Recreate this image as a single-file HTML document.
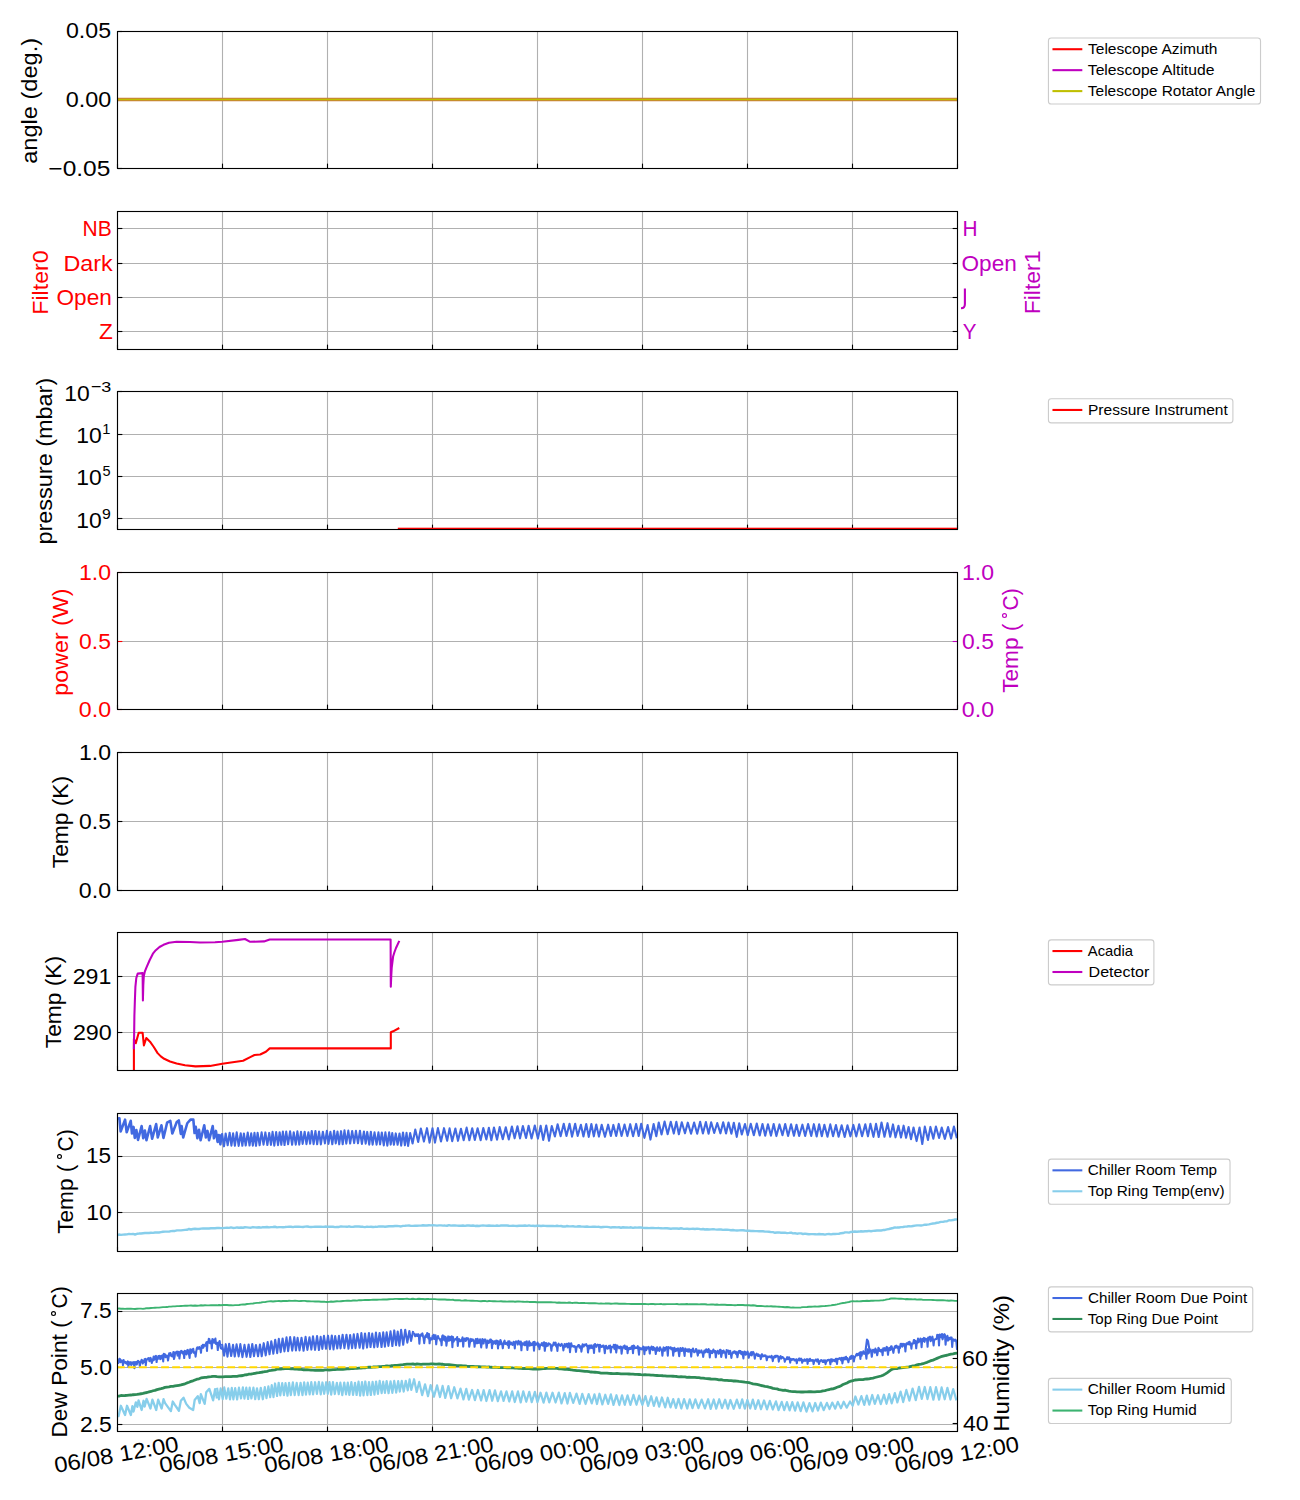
<!DOCTYPE html>
<html><head><meta charset="utf-8"><title>Telemetry plots</title>
<style>html,body{margin:0;padding:0;background:#fff;width:1300px;height:1500px;overflow:hidden}svg{display:block;font-family:"Liberation Sans",sans-serif}</style>
</head><body>
<svg width="1300" height="1500" viewBox="0 0 1300 1500">
<line x1="117.5" y1="31.5" x2="117.5" y2="168.5" stroke="#b0b0b0" stroke-width="1.11"/>
<line x1="222.5" y1="31.5" x2="222.5" y2="168.5" stroke="#b0b0b0" stroke-width="1.11"/>
<line x1="327.5" y1="31.5" x2="327.5" y2="168.5" stroke="#b0b0b0" stroke-width="1.11"/>
<line x1="432.5" y1="31.5" x2="432.5" y2="168.5" stroke="#b0b0b0" stroke-width="1.11"/>
<line x1="537.5" y1="31.5" x2="537.5" y2="168.5" stroke="#b0b0b0" stroke-width="1.11"/>
<line x1="642.5" y1="31.5" x2="642.5" y2="168.5" stroke="#b0b0b0" stroke-width="1.11"/>
<line x1="747.5" y1="31.5" x2="747.5" y2="168.5" stroke="#b0b0b0" stroke-width="1.11"/>
<line x1="852.5" y1="31.5" x2="852.5" y2="168.5" stroke="#b0b0b0" stroke-width="1.11"/>
<line x1="957.5" y1="31.5" x2="957.5" y2="168.5" stroke="#b0b0b0" stroke-width="1.11"/>
<line x1="117.5" y1="168.5" x2="957.5" y2="168.5" stroke="#b0b0b0" stroke-width="1.11"/>
<line x1="117.5" y1="99.5" x2="957.5" y2="99.5" stroke="#b0b0b0" stroke-width="1.11"/>
<line x1="117.5" y1="31.5" x2="957.5" y2="31.5" stroke="#b0b0b0" stroke-width="1.11"/>
<line x1="117.5" y1="211.5" x2="117.5" y2="349.5" stroke="#b0b0b0" stroke-width="1.11"/>
<line x1="222.5" y1="211.5" x2="222.5" y2="349.5" stroke="#b0b0b0" stroke-width="1.11"/>
<line x1="327.5" y1="211.5" x2="327.5" y2="349.5" stroke="#b0b0b0" stroke-width="1.11"/>
<line x1="432.5" y1="211.5" x2="432.5" y2="349.5" stroke="#b0b0b0" stroke-width="1.11"/>
<line x1="537.5" y1="211.5" x2="537.5" y2="349.5" stroke="#b0b0b0" stroke-width="1.11"/>
<line x1="642.5" y1="211.5" x2="642.5" y2="349.5" stroke="#b0b0b0" stroke-width="1.11"/>
<line x1="747.5" y1="211.5" x2="747.5" y2="349.5" stroke="#b0b0b0" stroke-width="1.11"/>
<line x1="852.5" y1="211.5" x2="852.5" y2="349.5" stroke="#b0b0b0" stroke-width="1.11"/>
<line x1="957.5" y1="211.5" x2="957.5" y2="349.5" stroke="#b0b0b0" stroke-width="1.11"/>
<line x1="117.5" y1="331.5" x2="957.5" y2="331.5" stroke="#b0b0b0" stroke-width="1.11"/>
<line x1="117.5" y1="297.5" x2="957.5" y2="297.5" stroke="#b0b0b0" stroke-width="1.11"/>
<line x1="117.5" y1="263.5" x2="957.5" y2="263.5" stroke="#b0b0b0" stroke-width="1.11"/>
<line x1="117.5" y1="228.5" x2="957.5" y2="228.5" stroke="#b0b0b0" stroke-width="1.11"/>
<line x1="117.5" y1="391.5" x2="117.5" y2="529.5" stroke="#b0b0b0" stroke-width="1.11"/>
<line x1="222.5" y1="391.5" x2="222.5" y2="529.5" stroke="#b0b0b0" stroke-width="1.11"/>
<line x1="327.5" y1="391.5" x2="327.5" y2="529.5" stroke="#b0b0b0" stroke-width="1.11"/>
<line x1="432.5" y1="391.5" x2="432.5" y2="529.5" stroke="#b0b0b0" stroke-width="1.11"/>
<line x1="537.5" y1="391.5" x2="537.5" y2="529.5" stroke="#b0b0b0" stroke-width="1.11"/>
<line x1="642.5" y1="391.5" x2="642.5" y2="529.5" stroke="#b0b0b0" stroke-width="1.11"/>
<line x1="747.5" y1="391.5" x2="747.5" y2="529.5" stroke="#b0b0b0" stroke-width="1.11"/>
<line x1="852.5" y1="391.5" x2="852.5" y2="529.5" stroke="#b0b0b0" stroke-width="1.11"/>
<line x1="957.5" y1="391.5" x2="957.5" y2="529.5" stroke="#b0b0b0" stroke-width="1.11"/>
<line x1="117.5" y1="391.5" x2="957.5" y2="391.5" stroke="#b0b0b0" stroke-width="1.11"/>
<line x1="117.5" y1="434.5" x2="957.5" y2="434.5" stroke="#b0b0b0" stroke-width="1.11"/>
<line x1="117.5" y1="476.5" x2="957.5" y2="476.5" stroke="#b0b0b0" stroke-width="1.11"/>
<line x1="117.5" y1="518.5" x2="957.5" y2="518.5" stroke="#b0b0b0" stroke-width="1.11"/>
<line x1="117.5" y1="572.5" x2="117.5" y2="709.5" stroke="#b0b0b0" stroke-width="1.11"/>
<line x1="222.5" y1="572.5" x2="222.5" y2="709.5" stroke="#b0b0b0" stroke-width="1.11"/>
<line x1="327.5" y1="572.5" x2="327.5" y2="709.5" stroke="#b0b0b0" stroke-width="1.11"/>
<line x1="432.5" y1="572.5" x2="432.5" y2="709.5" stroke="#b0b0b0" stroke-width="1.11"/>
<line x1="537.5" y1="572.5" x2="537.5" y2="709.5" stroke="#b0b0b0" stroke-width="1.11"/>
<line x1="642.5" y1="572.5" x2="642.5" y2="709.5" stroke="#b0b0b0" stroke-width="1.11"/>
<line x1="747.5" y1="572.5" x2="747.5" y2="709.5" stroke="#b0b0b0" stroke-width="1.11"/>
<line x1="852.5" y1="572.5" x2="852.5" y2="709.5" stroke="#b0b0b0" stroke-width="1.11"/>
<line x1="957.5" y1="572.5" x2="957.5" y2="709.5" stroke="#b0b0b0" stroke-width="1.11"/>
<line x1="117.5" y1="709.5" x2="957.5" y2="709.5" stroke="#b0b0b0" stroke-width="1.11"/>
<line x1="117.5" y1="641.5" x2="957.5" y2="641.5" stroke="#b0b0b0" stroke-width="1.11"/>
<line x1="117.5" y1="572.5" x2="957.5" y2="572.5" stroke="#b0b0b0" stroke-width="1.11"/>
<line x1="117.5" y1="752.5" x2="117.5" y2="890.5" stroke="#b0b0b0" stroke-width="1.11"/>
<line x1="222.5" y1="752.5" x2="222.5" y2="890.5" stroke="#b0b0b0" stroke-width="1.11"/>
<line x1="327.5" y1="752.5" x2="327.5" y2="890.5" stroke="#b0b0b0" stroke-width="1.11"/>
<line x1="432.5" y1="752.5" x2="432.5" y2="890.5" stroke="#b0b0b0" stroke-width="1.11"/>
<line x1="537.5" y1="752.5" x2="537.5" y2="890.5" stroke="#b0b0b0" stroke-width="1.11"/>
<line x1="642.5" y1="752.5" x2="642.5" y2="890.5" stroke="#b0b0b0" stroke-width="1.11"/>
<line x1="747.5" y1="752.5" x2="747.5" y2="890.5" stroke="#b0b0b0" stroke-width="1.11"/>
<line x1="852.5" y1="752.5" x2="852.5" y2="890.5" stroke="#b0b0b0" stroke-width="1.11"/>
<line x1="957.5" y1="752.5" x2="957.5" y2="890.5" stroke="#b0b0b0" stroke-width="1.11"/>
<line x1="117.5" y1="890.5" x2="957.5" y2="890.5" stroke="#b0b0b0" stroke-width="1.11"/>
<line x1="117.5" y1="821.5" x2="957.5" y2="821.5" stroke="#b0b0b0" stroke-width="1.11"/>
<line x1="117.5" y1="752.5" x2="957.5" y2="752.5" stroke="#b0b0b0" stroke-width="1.11"/>
<line x1="117.5" y1="932.5" x2="117.5" y2="1070.5" stroke="#b0b0b0" stroke-width="1.11"/>
<line x1="222.5" y1="932.5" x2="222.5" y2="1070.5" stroke="#b0b0b0" stroke-width="1.11"/>
<line x1="327.5" y1="932.5" x2="327.5" y2="1070.5" stroke="#b0b0b0" stroke-width="1.11"/>
<line x1="432.5" y1="932.5" x2="432.5" y2="1070.5" stroke="#b0b0b0" stroke-width="1.11"/>
<line x1="537.5" y1="932.5" x2="537.5" y2="1070.5" stroke="#b0b0b0" stroke-width="1.11"/>
<line x1="642.5" y1="932.5" x2="642.5" y2="1070.5" stroke="#b0b0b0" stroke-width="1.11"/>
<line x1="747.5" y1="932.5" x2="747.5" y2="1070.5" stroke="#b0b0b0" stroke-width="1.11"/>
<line x1="852.5" y1="932.5" x2="852.5" y2="1070.5" stroke="#b0b0b0" stroke-width="1.11"/>
<line x1="957.5" y1="932.5" x2="957.5" y2="1070.5" stroke="#b0b0b0" stroke-width="1.11"/>
<line x1="117.5" y1="1032.5" x2="957.5" y2="1032.5" stroke="#b0b0b0" stroke-width="1.11"/>
<line x1="117.5" y1="976.5" x2="957.5" y2="976.5" stroke="#b0b0b0" stroke-width="1.11"/>
<line x1="117.5" y1="1113.5" x2="117.5" y2="1251.5" stroke="#b0b0b0" stroke-width="1.11"/>
<line x1="222.5" y1="1113.5" x2="222.5" y2="1251.5" stroke="#b0b0b0" stroke-width="1.11"/>
<line x1="327.5" y1="1113.5" x2="327.5" y2="1251.5" stroke="#b0b0b0" stroke-width="1.11"/>
<line x1="432.5" y1="1113.5" x2="432.5" y2="1251.5" stroke="#b0b0b0" stroke-width="1.11"/>
<line x1="537.5" y1="1113.5" x2="537.5" y2="1251.5" stroke="#b0b0b0" stroke-width="1.11"/>
<line x1="642.5" y1="1113.5" x2="642.5" y2="1251.5" stroke="#b0b0b0" stroke-width="1.11"/>
<line x1="747.5" y1="1113.5" x2="747.5" y2="1251.5" stroke="#b0b0b0" stroke-width="1.11"/>
<line x1="852.5" y1="1113.5" x2="852.5" y2="1251.5" stroke="#b0b0b0" stroke-width="1.11"/>
<line x1="957.5" y1="1113.5" x2="957.5" y2="1251.5" stroke="#b0b0b0" stroke-width="1.11"/>
<line x1="117.5" y1="1212.5" x2="957.5" y2="1212.5" stroke="#b0b0b0" stroke-width="1.11"/>
<line x1="117.5" y1="1156.5" x2="957.5" y2="1156.5" stroke="#b0b0b0" stroke-width="1.11"/>
<line x1="117.5" y1="1293.5" x2="117.5" y2="1431.5" stroke="#b0b0b0" stroke-width="1.11"/>
<line x1="222.5" y1="1293.5" x2="222.5" y2="1431.5" stroke="#b0b0b0" stroke-width="1.11"/>
<line x1="327.5" y1="1293.5" x2="327.5" y2="1431.5" stroke="#b0b0b0" stroke-width="1.11"/>
<line x1="432.5" y1="1293.5" x2="432.5" y2="1431.5" stroke="#b0b0b0" stroke-width="1.11"/>
<line x1="537.5" y1="1293.5" x2="537.5" y2="1431.5" stroke="#b0b0b0" stroke-width="1.11"/>
<line x1="642.5" y1="1293.5" x2="642.5" y2="1431.5" stroke="#b0b0b0" stroke-width="1.11"/>
<line x1="747.5" y1="1293.5" x2="747.5" y2="1431.5" stroke="#b0b0b0" stroke-width="1.11"/>
<line x1="852.5" y1="1293.5" x2="852.5" y2="1431.5" stroke="#b0b0b0" stroke-width="1.11"/>
<line x1="957.5" y1="1293.5" x2="957.5" y2="1431.5" stroke="#b0b0b0" stroke-width="1.11"/>
<line x1="117.5" y1="1424.5" x2="957.5" y2="1424.5" stroke="#b0b0b0" stroke-width="1.11"/>
<line x1="117.5" y1="1367.5" x2="957.5" y2="1367.5" stroke="#b0b0b0" stroke-width="1.11"/>
<line x1="117.5" y1="1311.5" x2="957.5" y2="1311.5" stroke="#b0b0b0" stroke-width="1.11"/>
<line x1="117.5" y1="168.5" x2="117.5" y2="163.64" stroke="#000" stroke-width="1.11"/>
<line x1="222.5" y1="168.5" x2="222.5" y2="163.64" stroke="#000" stroke-width="1.11"/>
<line x1="327.5" y1="168.5" x2="327.5" y2="163.64" stroke="#000" stroke-width="1.11"/>
<line x1="432.5" y1="168.5" x2="432.5" y2="163.64" stroke="#000" stroke-width="1.11"/>
<line x1="537.5" y1="168.5" x2="537.5" y2="163.64" stroke="#000" stroke-width="1.11"/>
<line x1="642.5" y1="168.5" x2="642.5" y2="163.64" stroke="#000" stroke-width="1.11"/>
<line x1="747.5" y1="168.5" x2="747.5" y2="163.64" stroke="#000" stroke-width="1.11"/>
<line x1="852.5" y1="168.5" x2="852.5" y2="163.64" stroke="#000" stroke-width="1.11"/>
<line x1="957.5" y1="168.5" x2="957.5" y2="163.64" stroke="#000" stroke-width="1.11"/>
<line x1="117.5" y1="168.5" x2="122.36" y2="168.5" stroke="#000000" stroke-width="1.11"/>
<line x1="117.5" y1="99.5" x2="122.36" y2="99.5" stroke="#000000" stroke-width="1.11"/>
<line x1="117.5" y1="31.5" x2="122.36" y2="31.5" stroke="#000000" stroke-width="1.11"/>
<line x1="117.5" y1="349.5" x2="117.5" y2="344.64" stroke="#000" stroke-width="1.11"/>
<line x1="222.5" y1="349.5" x2="222.5" y2="344.64" stroke="#000" stroke-width="1.11"/>
<line x1="327.5" y1="349.5" x2="327.5" y2="344.64" stroke="#000" stroke-width="1.11"/>
<line x1="432.5" y1="349.5" x2="432.5" y2="344.64" stroke="#000" stroke-width="1.11"/>
<line x1="537.5" y1="349.5" x2="537.5" y2="344.64" stroke="#000" stroke-width="1.11"/>
<line x1="642.5" y1="349.5" x2="642.5" y2="344.64" stroke="#000" stroke-width="1.11"/>
<line x1="747.5" y1="349.5" x2="747.5" y2="344.64" stroke="#000" stroke-width="1.11"/>
<line x1="852.5" y1="349.5" x2="852.5" y2="344.64" stroke="#000" stroke-width="1.11"/>
<line x1="957.5" y1="349.5" x2="957.5" y2="344.64" stroke="#000" stroke-width="1.11"/>
<line x1="117.5" y1="331.5" x2="122.36" y2="331.5" stroke="#000000" stroke-width="1.11"/>
<line x1="117.5" y1="297.5" x2="122.36" y2="297.5" stroke="#000000" stroke-width="1.11"/>
<line x1="117.5" y1="263.5" x2="122.36" y2="263.5" stroke="#000000" stroke-width="1.11"/>
<line x1="117.5" y1="228.5" x2="122.36" y2="228.5" stroke="#000000" stroke-width="1.11"/>
<line x1="117.5" y1="529.5" x2="117.5" y2="524.64" stroke="#000" stroke-width="1.11"/>
<line x1="222.5" y1="529.5" x2="222.5" y2="524.64" stroke="#000" stroke-width="1.11"/>
<line x1="327.5" y1="529.5" x2="327.5" y2="524.64" stroke="#000" stroke-width="1.11"/>
<line x1="432.5" y1="529.5" x2="432.5" y2="524.64" stroke="#000" stroke-width="1.11"/>
<line x1="537.5" y1="529.5" x2="537.5" y2="524.64" stroke="#000" stroke-width="1.11"/>
<line x1="642.5" y1="529.5" x2="642.5" y2="524.64" stroke="#000" stroke-width="1.11"/>
<line x1="747.5" y1="529.5" x2="747.5" y2="524.64" stroke="#000" stroke-width="1.11"/>
<line x1="852.5" y1="529.5" x2="852.5" y2="524.64" stroke="#000" stroke-width="1.11"/>
<line x1="957.5" y1="529.5" x2="957.5" y2="524.64" stroke="#000" stroke-width="1.11"/>
<line x1="117.5" y1="391.5" x2="122.36" y2="391.5" stroke="#000000" stroke-width="1.11"/>
<line x1="117.5" y1="434.5" x2="122.36" y2="434.5" stroke="#000000" stroke-width="1.11"/>
<line x1="117.5" y1="476.5" x2="122.36" y2="476.5" stroke="#000000" stroke-width="1.11"/>
<line x1="117.5" y1="518.5" x2="122.36" y2="518.5" stroke="#000000" stroke-width="1.11"/>
<line x1="117.5" y1="709.5" x2="117.5" y2="704.64" stroke="#000" stroke-width="1.11"/>
<line x1="222.5" y1="709.5" x2="222.5" y2="704.64" stroke="#000" stroke-width="1.11"/>
<line x1="327.5" y1="709.5" x2="327.5" y2="704.64" stroke="#000" stroke-width="1.11"/>
<line x1="432.5" y1="709.5" x2="432.5" y2="704.64" stroke="#000" stroke-width="1.11"/>
<line x1="537.5" y1="709.5" x2="537.5" y2="704.64" stroke="#000" stroke-width="1.11"/>
<line x1="642.5" y1="709.5" x2="642.5" y2="704.64" stroke="#000" stroke-width="1.11"/>
<line x1="747.5" y1="709.5" x2="747.5" y2="704.64" stroke="#000" stroke-width="1.11"/>
<line x1="852.5" y1="709.5" x2="852.5" y2="704.64" stroke="#000" stroke-width="1.11"/>
<line x1="957.5" y1="709.5" x2="957.5" y2="704.64" stroke="#000" stroke-width="1.11"/>
<line x1="117.5" y1="709.5" x2="122.36" y2="709.5" stroke="#ff0000" stroke-width="1.11"/>
<line x1="117.5" y1="641.5" x2="122.36" y2="641.5" stroke="#ff0000" stroke-width="1.11"/>
<line x1="117.5" y1="572.5" x2="122.36" y2="572.5" stroke="#ff0000" stroke-width="1.11"/>
<line x1="117.5" y1="890.5" x2="117.5" y2="885.64" stroke="#000" stroke-width="1.11"/>
<line x1="222.5" y1="890.5" x2="222.5" y2="885.64" stroke="#000" stroke-width="1.11"/>
<line x1="327.5" y1="890.5" x2="327.5" y2="885.64" stroke="#000" stroke-width="1.11"/>
<line x1="432.5" y1="890.5" x2="432.5" y2="885.64" stroke="#000" stroke-width="1.11"/>
<line x1="537.5" y1="890.5" x2="537.5" y2="885.64" stroke="#000" stroke-width="1.11"/>
<line x1="642.5" y1="890.5" x2="642.5" y2="885.64" stroke="#000" stroke-width="1.11"/>
<line x1="747.5" y1="890.5" x2="747.5" y2="885.64" stroke="#000" stroke-width="1.11"/>
<line x1="852.5" y1="890.5" x2="852.5" y2="885.64" stroke="#000" stroke-width="1.11"/>
<line x1="957.5" y1="890.5" x2="957.5" y2="885.64" stroke="#000" stroke-width="1.11"/>
<line x1="117.5" y1="890.5" x2="122.36" y2="890.5" stroke="#000000" stroke-width="1.11"/>
<line x1="117.5" y1="821.5" x2="122.36" y2="821.5" stroke="#000000" stroke-width="1.11"/>
<line x1="117.5" y1="752.5" x2="122.36" y2="752.5" stroke="#000000" stroke-width="1.11"/>
<line x1="117.5" y1="1070.5" x2="117.5" y2="1065.64" stroke="#000" stroke-width="1.11"/>
<line x1="222.5" y1="1070.5" x2="222.5" y2="1065.64" stroke="#000" stroke-width="1.11"/>
<line x1="327.5" y1="1070.5" x2="327.5" y2="1065.64" stroke="#000" stroke-width="1.11"/>
<line x1="432.5" y1="1070.5" x2="432.5" y2="1065.64" stroke="#000" stroke-width="1.11"/>
<line x1="537.5" y1="1070.5" x2="537.5" y2="1065.64" stroke="#000" stroke-width="1.11"/>
<line x1="642.5" y1="1070.5" x2="642.5" y2="1065.64" stroke="#000" stroke-width="1.11"/>
<line x1="747.5" y1="1070.5" x2="747.5" y2="1065.64" stroke="#000" stroke-width="1.11"/>
<line x1="852.5" y1="1070.5" x2="852.5" y2="1065.64" stroke="#000" stroke-width="1.11"/>
<line x1="957.5" y1="1070.5" x2="957.5" y2="1065.64" stroke="#000" stroke-width="1.11"/>
<line x1="117.5" y1="1032.5" x2="122.36" y2="1032.5" stroke="#000000" stroke-width="1.11"/>
<line x1="117.5" y1="976.5" x2="122.36" y2="976.5" stroke="#000000" stroke-width="1.11"/>
<line x1="117.5" y1="1251.5" x2="117.5" y2="1246.64" stroke="#000" stroke-width="1.11"/>
<line x1="222.5" y1="1251.5" x2="222.5" y2="1246.64" stroke="#000" stroke-width="1.11"/>
<line x1="327.5" y1="1251.5" x2="327.5" y2="1246.64" stroke="#000" stroke-width="1.11"/>
<line x1="432.5" y1="1251.5" x2="432.5" y2="1246.64" stroke="#000" stroke-width="1.11"/>
<line x1="537.5" y1="1251.5" x2="537.5" y2="1246.64" stroke="#000" stroke-width="1.11"/>
<line x1="642.5" y1="1251.5" x2="642.5" y2="1246.64" stroke="#000" stroke-width="1.11"/>
<line x1="747.5" y1="1251.5" x2="747.5" y2="1246.64" stroke="#000" stroke-width="1.11"/>
<line x1="852.5" y1="1251.5" x2="852.5" y2="1246.64" stroke="#000" stroke-width="1.11"/>
<line x1="957.5" y1="1251.5" x2="957.5" y2="1246.64" stroke="#000" stroke-width="1.11"/>
<line x1="117.5" y1="1212.5" x2="122.36" y2="1212.5" stroke="#000000" stroke-width="1.11"/>
<line x1="117.5" y1="1156.5" x2="122.36" y2="1156.5" stroke="#000000" stroke-width="1.11"/>
<line x1="117.5" y1="1431.5" x2="117.5" y2="1426.64" stroke="#000" stroke-width="1.11"/>
<line x1="222.5" y1="1431.5" x2="222.5" y2="1426.64" stroke="#000" stroke-width="1.11"/>
<line x1="327.5" y1="1431.5" x2="327.5" y2="1426.64" stroke="#000" stroke-width="1.11"/>
<line x1="432.5" y1="1431.5" x2="432.5" y2="1426.64" stroke="#000" stroke-width="1.11"/>
<line x1="537.5" y1="1431.5" x2="537.5" y2="1426.64" stroke="#000" stroke-width="1.11"/>
<line x1="642.5" y1="1431.5" x2="642.5" y2="1426.64" stroke="#000" stroke-width="1.11"/>
<line x1="747.5" y1="1431.5" x2="747.5" y2="1426.64" stroke="#000" stroke-width="1.11"/>
<line x1="852.5" y1="1431.5" x2="852.5" y2="1426.64" stroke="#000" stroke-width="1.11"/>
<line x1="957.5" y1="1431.5" x2="957.5" y2="1426.64" stroke="#000" stroke-width="1.11"/>
<line x1="117.5" y1="1424.5" x2="122.36" y2="1424.5" stroke="#000000" stroke-width="1.11"/>
<line x1="117.5" y1="1367.5" x2="122.36" y2="1367.5" stroke="#000000" stroke-width="1.11"/>
<line x1="117.5" y1="1311.5" x2="122.36" y2="1311.5" stroke="#000000" stroke-width="1.11"/>
<line x1="957.5" y1="331.5" x2="952.64" y2="331.5" stroke="#000000" stroke-width="1.11"/>
<line x1="957.5" y1="297.5" x2="952.64" y2="297.5" stroke="#000000" stroke-width="1.11"/>
<line x1="957.5" y1="263.5" x2="952.64" y2="263.5" stroke="#000000" stroke-width="1.11"/>
<line x1="957.5" y1="228.5" x2="952.64" y2="228.5" stroke="#000000" stroke-width="1.11"/>
<line x1="957.5" y1="709.5" x2="952.64" y2="709.5" stroke="#bf00bf" stroke-width="1.11"/>
<line x1="957.5" y1="641.5" x2="952.64" y2="641.5" stroke="#bf00bf" stroke-width="1.11"/>
<line x1="957.5" y1="572.5" x2="952.64" y2="572.5" stroke="#bf00bf" stroke-width="1.11"/>
<line x1="957.5" y1="1423.5" x2="952.64" y2="1423.5" stroke="#000000" stroke-width="1.11"/>
<line x1="957.5" y1="1358.5" x2="952.64" y2="1358.5" stroke="#000000" stroke-width="1.11"/>
<defs>
<clipPath id="cp1"><rect x="117.5" y="31.5" width="840" height="137"/></clipPath>
<clipPath id="cp3"><rect x="117.5" y="391.5" width="840" height="138"/></clipPath>
<clipPath id="cp6"><rect x="117.5" y="932.5" width="840" height="138"/></clipPath>
<clipPath id="cp7"><rect x="117.5" y="1113.5" width="840" height="138"/></clipPath>
<clipPath id="cp8"><rect x="117.5" y="1293.5" width="840" height="138"/></clipPath>
</defs>
<g clip-path="url(#cp1)">
<line x1="117" y1="99.46" x2="958" y2="99.46" stroke="#c97c3c" stroke-width="3.4"/>
<line x1="117" y1="99.46" x2="958" y2="99.46" stroke="#bfbf00" stroke-width="1.5"/>
</g>
<g clip-path="url(#cp3)">
<rect x="397.8" y="527.7" width="560" height="2.2" fill="#ff0000"/>
</g>
<g clip-path="url(#cp6)">
<path d="M133.9,1072 L133.9,1038.9 L135.8,1043.2 L138.7,1032.7 L142.6,1032.7 L143.9,1045.5 L146.3,1038 L150,1041.7 L153.8,1047 L157.6,1053.1 L160.8,1056.4 L164.2,1058.8 L170,1061.5 L176.6,1063.5 L185,1065.3 L195.5,1066.4 L210,1065.9 L222.3,1063.7 L243.1,1060.7 L250.7,1056.9 L254.5,1055 L260.2,1054.5 L265.9,1051.7 L269.7,1048.4 L390.8,1048.4 L390.8,1032.3 L393.1,1031.3 L399.3,1028" fill="none" stroke="#ff0000" stroke-width="2.08" stroke-linejoin="round" stroke-linecap="butt"/>
<path d="M133.9,1049.3 L134.2,1030 L134.4,1015.2 L134.9,1000 L135.4,986.8 L136.3,978 L137.7,973.6 L142.6,973.1 L142.9,1000.5 L143.3,985 L143.8,976 L144.8,971.7 L146.3,967.9 L149.5,960.5 L152.9,953.7 L155.8,950.2 L159.5,947 L163.5,944.8 L169,942.8 L176.6,941.8 L190,942 L200,942.5 L215,942.3 L222.3,941.8 L238.4,939.9 L245,939 L250.2,941.8 L264,941.4 L269.7,939.5 L390.6,939.5 L390.8,986.8 L391.3,975 L391.7,967.9 L393.1,956.5 L394.5,952 L396,948 L399.3,940.9" fill="none" stroke="#bf00bf" stroke-width="2.08" stroke-linejoin="round" stroke-linecap="butt"/>
</g>
<g clip-path="url(#cp7)">
<path d="M117,1118.5 L119.42,1118.41 L120.63,1131.42 L125.08,1119.62 L126.69,1132.22 L130.73,1120.84 L131.94,1133.44 L133.56,1126.89 L134.77,1137.88 L136.39,1130.12 L138,1139.9 L141.64,1126.09 L143.25,1138.28 L144.87,1130.53 L146.48,1140.3 L150.12,1126.09 L152.14,1138.69 L156.18,1124.07 L157.79,1137.47 L161.43,1125.28 L163.45,1137.88 L165.47,1129.72 L167.08,1122.69 L170.31,1120.84 L172.33,1133.44 L176.77,1122.05 L178.79,1120.43 L180.81,1133.84 L181.62,1126.09 L183.24,1137.47 L187.27,1123.26 L190.51,1119.62 L193.33,1119.62 L194.54,1133.03 L195.76,1126.89 L197.37,1138.28 L198.99,1129.72 L200.6,1140.3 L204.24,1125.28 L205.85,1137.47 L207.47,1130.93 L209.08,1140.3 L212.72,1126.09 L213.93,1138.28 L215.95,1130.93 L217.57,1141.92 L218.78,1134.97 L220.39,1144.34 L221.6,1134.16" fill="none" stroke="#4169e1" stroke-width="2.6" stroke-linejoin="round" stroke-linecap="butt"/>
<path d="M222,1133.11 L224.01,1146.34 L225.67,1133.45 L227.67,1145.3 L229.64,1132.75 L231.42,1145.6 L233.1,1133.37 L234.87,1145.79 L236.7,1132.36 L238.66,1145.86 L240.73,1133.27 L242.34,1145.78 L243.9,1133.43 L245.7,1145.53 L247.73,1132.61 L249.54,1145.49 L251.2,1133.32 L252.83,1145.67 L254.47,1132.81 L256,1145.79 L257.62,1132.87 L259.62,1145.31 L261.61,1132.33 L263.54,1144.71 L265.36,1132.42 L267.36,1144.98 L269.22,1132.91 L270.96,1144.86 L272.57,1131.89 L274.3,1145.62 L276.15,1132.09 L278.03,1145.17 L279.64,1132.23 L281.3,1144.76 L282.88,1131.5 L284.52,1145.04 L286.22,1131.56 L288.1,1144.28 L290.09,1131.39 L292.11,1144.76 L293.72,1132.27 L295.75,1144.67 L297.38,1131.33 L299.25,1144.62 L300.99,1131.85 L302.65,1143.89 L304.65,1131.71 L306.47,1144.17 L308.41,1132.2 L310.14,1143.73 L311.74,1130.94 L313.62,1144.17 L315.44,1130.99 L317.15,1144.3 L319.05,1131.57 L320.86,1144.45 L322.88,1131.76 L324.92,1143.41 L326.85,1130.85 L328.46,1143.87 L330.43,1131.79 L332.3,1144.26 L334.1,1130.82 L335.75,1143.45 L337.48,1131.44 L339.2,1144.33 L341.04,1131.17 L342.71,1144.26 L344.48,1130.29 L346.29,1143.66 L348.31,1130.56 L350.15,1143.54 L352.15,1130.98 L354.18,1143.08 L355.94,1130.85 L357.99,1143.31 L359.95,1130.73 L361.87,1143.97 L363.93,1131.49 L365.67,1143.68 L367.23,1131.91 L369.25,1144.7 L370.84,1131.72 L372.63,1144.61 L374.52,1132.39 L376.57,1144.7 L378.44,1132.31 L380.07,1144.43 L381.82,1132.43 L383.79,1145.43 L385.38,1132.35 L387.34,1145.61 L389.15,1132.34 L390.71,1144.58 L392.25,1133.15 L393.91,1144.77 L395.75,1133.41 L397.6,1144.75 L399.5,1133.43 L401.19,1145.68 L403.01,1132.47 L404.9,1145.29 L406.53,1132.87 L408.08,1145.99 L410.13,1133.1 L412.58,1143.43 L415.25,1129.6 L418.18,1141.99 L420.85,1128.44 L423.92,1141.6 L426.98,1128.14 L429.54,1142.65 L432.49,1128.3 L434.97,1142.65 L437.91,1128.11 L440.99,1141.55 L444,1128.18 L447.16,1140.83 L449.58,1128.34 L452.17,1141.16 L455.37,1128.51 L457.98,1140.82 L460.94,1128.69 L463.67,1140.21 L466.63,1127.62 L469.35,1140.31 L472.21,1128.21 L474.82,1140.06 L477.61,1128.22 L480.65,1140.16 L483.3,1128.05 L486.35,1139.41 L488.86,1127.82 L491.33,1140.18 L493.96,1127.45 L497.07,1139.63 L499.63,1127.13 L502.78,1139.13 L505.78,1127.36 L508.8,1139.4 L511.9,1126.47 L514.62,1138.33 L517.46,1126.21 L520.02,1138.38 L522.88,1126.06 L526.04,1138 L528.6,1125.83 L531.54,1138.52 L534.79,1125.48 L537.91,1138.62 L540.64,1125.72 L543.2,1139.91 L546.24,1125.53 L549.02,1140.78 L551.78,1125.94 L554.9,1136.52 L557.62,1124.28 L560.64,1136.22 L563.74,1123.84 L566.47,1135.93 L569.52,1123.75 L572.04,1136.62 L575.15,1123.83 L577.65,1135.88 L580.89,1124.79 L583.44,1136.45 L586.22,1124.04 L588.78,1136.86 L591.37,1124.01 L593.83,1136.33 L596.26,1124.56 L598.92,1136.63 L601.71,1124.86 L604.95,1136.83 L608.13,1124.64 L610.87,1136.04 L613.37,1124.89 L616.2,1135.92 L618.75,1123.91 L621.56,1135.99 L624.53,1124.61 L627.38,1136.11 L630.22,1124.18 L633.08,1136.24 L636.15,1123.89 L638.7,1135.93 L641.2,1123.76 L644.4,1137.87 L647.62,1125.01 L650.45,1139.6 L653.63,1123.98 L656.3,1136.28 L658.75,1122.53 L661.55,1134.4 L664.59,1121.59 L667.64,1134.13 L670.76,1121.82 L673.79,1133.59 L676.33,1121.78 L678.87,1134.26 L681.78,1122.32 L684.97,1133.32 L687.81,1122.64 L691.03,1133.73 L694.11,1122.48 L697.19,1133.81 L700.14,1121.79 L702.91,1133.43 L705.9,1121.97 L708.58,1133.66 L711.16,1122.33 L714.21,1132.94 L717.23,1122.96 L720.45,1133.32 L723.19,1122.25 L726.04,1133.54 L728.51,1122.47 L731.39,1133.7 L733.82,1122.76 L736.76,1136.89 L739.22,1123.28 L741.81,1134.51 L744.96,1123.98 L747.74,1135.3 L750.74,1123.75 L753.83,1135.16 L756.75,1123.62 L759.73,1135.52 L762.48,1124.08 L765.21,1135.79 L767.94,1124.33 L770.98,1135.64 L773.67,1123.97 L776.39,1136.1 L779.46,1124.43 L782.46,1135.26 L785.19,1124 L788.09,1135.92 L791.05,1124.24 L793.95,1135.84 L796.5,1124.71 L799.15,1135.92 L802.4,1124.68 L805.18,1135.93 L808.08,1124.04 L811.23,1136.01 L813.86,1124.15 L816.68,1136.44 L819.14,1124.2 L821.81,1136.28 L824.38,1124.74 L827.48,1136.74 L830.28,1124.38 L833.07,1136.29 L835.94,1125.07 L838.6,1136.74 L841.66,1125.28 L844.68,1136.95 L847.46,1125.31 L850.44,1136.36 L853.39,1124.89 L856.33,1136.37 L859.13,1124.37 L862.07,1136.28 L865.29,1124.3 L867.95,1136.32 L870.4,1123.83 L873.46,1136.88 L876.03,1123.87 L878.7,1136.95 L881.52,1122.5 L884.47,1136.78 L887.52,1123.18 L890.22,1136.72 L892.99,1124.43 L895.51,1137.35 L898.45,1125.78 L900.97,1137.43 L903.61,1125.66 L906.04,1137.82 L908.58,1127.06 L910.99,1139.17 L913.53,1127.48 L916.6,1141.08 L919.53,1127.45 L922.28,1144.07 L924.82,1126.65 L927.98,1139.96 L930.42,1126.92 L933.33,1138.71 L935.92,1126.59 L939.07,1137.97 L941.74,1127.62 L944.84,1138.87 L948.08,1126.97 L951.05,1138.6 L953.93,1126.59 L956.85,1138.22" fill="none" stroke="#4169e1" stroke-width="2.08" stroke-linejoin="round" stroke-linecap="butt"/>
<path d="M117,1235.41 L119,1234.49 L121,1234.91 L123,1234.6 L125,1234.49 L127,1234.39 L129,1233.94 L131,1234.12 L133,1233.88 L135,1234.5 L137,1233.81 L139,1233.57 L141,1233.45 L143,1233.25 L145,1233.04 L147,1233.03 L149,1233.05 L151,1232.79 L153,1232.87 L155,1232.52 L157,1232.4 L159,1232.5 L161,1232.14 L163,1231.77 L165,1231.64 L167,1231.59 L169,1231.66 L171,1231.08 L173,1230.9 L175,1230.94 L177,1230.42 L179,1230.34 L181,1230.37 L183,1230.14 L185,1229.87 L187,1229.79 L189,1228.98 L191,1229.51 L193,1229.02 L195,1228.77 L197,1229.01 L199,1228.97 L201,1228.65 L203,1228.43 L205,1228.51 L207,1228.39 L209,1228.54 L211,1228.31 L213,1228.12 L215,1228.23 L217,1227.97 L219,1227.83 L221,1228.1 L223,1228.08 L225,1227.91 L227,1227.77 L229,1227.92 L231,1227.39 L233,1227.93 L235,1227.86 L237,1227.44 L239,1227.71 L241,1227.49 L243,1227.77 L245,1227.23 L247,1227.4 L249,1227.65 L251,1227.7 L253,1227.07 L255,1227.33 L257,1227.45 L259,1227.24 L261,1227.6 L263,1227.07 L265,1227.31 L267,1227.02 L269,1227.43 L271,1227.14 L273,1227.04 L275,1226.76 L277,1227.34 L279,1227.15 L281,1227.13 L283,1227.18 L285,1227.03 L287,1226.83 L289,1226.79 L291,1226.78 L293,1227.16 L295,1226.64 L297,1226.78 L299,1226.82 L301,1226.9 L303,1226.95 L305,1226.61 L307,1226.51 L309,1226.81 L311,1227.02 L313,1226.92 L315,1226.81 L317,1226.71 L319,1226.8 L321,1226.69 L323,1226.87 L325,1226.57 L327,1226.73 L329,1226.68 L331,1226.8 L333,1226.74 L335,1227.16 L337,1226.97 L339,1226.97 L341,1226.33 L343,1226.64 L345,1226.59 L347,1226.8 L349,1226.29 L351,1226.91 L353,1226.89 L355,1226.47 L357,1226.52 L359,1226.56 L361,1226.71 L363,1226.82 L365,1227.07 L367,1226.66 L369,1226.84 L371,1226.73 L373,1227.01 L375,1226.82 L377,1226.9 L379,1226.42 L381,1226.52 L383,1226.36 L385,1226.72 L387,1226.51 L389,1226.28 L391,1226.2 L393,1226.31 L395,1226.04 L397,1225.94 L399,1226.14 L401,1226.44 L403,1225.9 L405,1225.79 L407,1225.62 L409,1225.55 L411,1225.85 L413,1225.87 L415,1225.68 L417,1225.71 L419,1225.64 L421,1225.61 L423,1225.28 L425,1225.43 L427,1225.5 L429,1225.31 L431,1225.34 L433,1225.27 L435,1225.35 L437,1225.57 L439,1225.35 L441,1225.41 L443,1225.59 L445,1225.57 L447,1225.76 L449,1225.09 L451,1225.63 L453,1225.39 L455,1225.51 L457,1225.65 L459,1225.7 L461,1225.7 L463,1225.55 L465,1225.82 L467,1225.48 L469,1225.52 L471,1225.69 L473,1225.46 L475,1225.95 L477,1225.75 L479,1225.97 L481,1225.58 L483,1225.53 L485,1225.63 L487,1225.74 L489,1225.51 L491,1225.69 L493,1225.63 L495,1225.93 L497,1225.53 L499,1225.84 L501,1225.55 L503,1225.5 L505,1225.55 L507,1225.47 L509,1225.72 L511,1225.89 L513,1225.74 L515,1225.83 L517,1226.02 L519,1225.78 L521,1225.77 L523,1225.7 L525,1225.46 L527,1225.9 L529,1225.45 L531,1225.89 L533,1225.78 L535,1226 L537,1225.8 L539,1225.69 L541,1225.94 L543,1225.81 L545,1225.91 L547,1225.99 L549,1225.99 L551,1226.02 L553,1225.94 L555,1226.09 L557,1225.78 L559,1226.17 L561,1226.02 L563,1226.47 L565,1226.54 L567,1225.99 L569,1226.41 L571,1226.39 L573,1226.26 L575,1226.58 L577,1226.44 L579,1226.24 L581,1226.55 L583,1226.61 L585,1226.69 L587,1226.48 L589,1226.85 L591,1226.91 L593,1226.61 L595,1226.73 L597,1226.87 L599,1226.82 L601,1227.27 L603,1227.03 L605,1226.85 L607,1226.92 L609,1227.09 L611,1227.55 L613,1227.14 L615,1227.23 L617,1227.34 L619,1227.28 L621,1227.73 L623,1227.26 L625,1227.53 L627,1227.46 L629,1227.58 L631,1227.29 L633,1227.86 L635,1227.55 L637,1227.62 L639,1227.48 L641,1227.55 L643,1227.83 L645,1227.95 L647,1227.95 L649,1228.08 L651,1228.03 L653,1227.96 L655,1228.15 L657,1228.15 L659,1228.07 L661,1228.26 L663,1228.41 L665,1228.27 L667,1228.21 L669,1228.45 L671,1228.7 L673,1228.37 L675,1228.44 L677,1228.47 L679,1228.76 L681,1228.26 L683,1228.7 L685,1228.9 L687,1228.58 L689,1229.04 L691,1228.91 L693,1228.76 L695,1228.95 L697,1228.68 L699,1228.91 L701,1229.4 L703,1228.97 L705,1229.53 L707,1229.25 L709,1229.51 L711,1229.41 L713,1229.06 L715,1229.43 L717,1229.63 L719,1229.46 L721,1229.49 L723,1229.87 L725,1229.75 L727,1229.63 L729,1229.88 L731,1230.22 L733,1230.05 L735,1230.37 L737,1230.54 L739,1230.34 L741,1230.2 L743,1230.23 L745,1230.53 L747,1230.78 L749,1230.77 L751,1230.94 L753,1230.88 L755,1231.13 L757,1231.11 L759,1231.25 L761,1231.2 L763,1231.27 L765,1231.58 L767,1231.59 L769,1231.73 L771,1232.15 L773,1232.12 L775,1232.79 L777,1232.55 L779,1232.38 L781,1232.74 L783,1232.77 L785,1232.69 L787,1233.11 L789,1232.88 L791,1232.57 L793,1233.36 L795,1233.21 L797,1233.69 L799,1233.41 L801,1233.42 L803,1234.02 L805,1233.65 L807,1233.98 L809,1234.3 L811,1234.14 L813,1234.16 L815,1234.21 L817,1234.35 L819,1234.05 L821,1234.31 L823,1234.3 L825,1234.62 L827,1234.14 L829,1234.04 L831,1234.32 L833,1234.06 L835,1234.05 L837,1233.83 L839,1233.77 L841,1233.19 L843,1233.03 L845,1232.34 L847,1232.38 L849,1232.57 L851,1231.95 L853,1231.76 L855,1231.53 L857,1231.75 L859,1231.57 L861,1231.22 L863,1231.45 L865,1231.28 L867,1231.26 L869,1230.91 L871,1231.23 L873,1230.89 L875,1230.69 L877,1230.52 L879,1230.46 L881,1230.51 L883,1230.07 L885,1229.94 L887,1229.38 L889,1229.03 L891,1228.49 L893,1227.98 L895,1227.38 L897,1227.57 L899,1227.46 L901,1227.16 L903,1227.03 L905,1226.65 L907,1226.48 L909,1226.18 L911,1226.4 L913,1225.99 L915,1225.68 L917,1225.34 L919,1225.35 L921,1225.45 L923,1225.06 L925,1224.6 L927,1224.69 L929,1224.35 L931,1223.92 L933,1223.54 L935,1223.25 L937,1222.79 L939,1222.48 L941,1221.85 L943,1221.91 L945,1221.33 L947,1221.3 L949,1220.21 L951,1220.36 L953,1220.06 L955,1219.49 L957,1219.35 L958,1219.23" fill="none" stroke="#87ceeb" stroke-width="2.4" stroke-linejoin="round" stroke-linecap="butt"/>
</g>
<g clip-path="url(#cp8)">
<path d="M117,1308.61 L119,1308.55 L121,1308.69 L123,1308.78 L125,1308.87 L127,1308.75 L129,1308.68 L131,1308.66 L133,1308.86 L135,1308.97 L137,1308.82 L139,1308.63 L141,1308.62 L143,1308.83 L145,1308.54 L147,1308.17 L149,1308.22 L151,1307.95 L153,1307.88 L155,1307.75 L157,1307.58 L159,1307.59 L161,1307.38 L163,1307.17 L165,1307.15 L167,1307.06 L169,1306.62 L171,1306.65 L173,1306.42 L175,1306.37 L177,1306.1 L179,1306.12 L181,1305.99 L183,1305.87 L185,1305.72 L187,1305.75 L189,1305.63 L191,1305.56 L193,1305.71 L195,1305.51 L197,1305.74 L199,1305.65 L201,1305.28 L203,1305.51 L205,1305.31 L207,1305.4 L209,1305.37 L211,1305.08 L213,1305.25 L215,1305.21 L217,1305.32 L219,1305.02 L221,1305.22 L223,1304.98 L225,1305.06 L227,1305 L229,1305.27 L231,1305.17 L233,1305.39 L235,1305.16 L237,1305.14 L239,1305.02 L241,1304.67 L243,1304.51 L245,1304.45 L247,1304.01 L249,1303.85 L251,1303.59 L253,1303.44 L255,1303.09 L257,1302.88 L259,1302.7 L261,1302.45 L263,1302.11 L265,1302.09 L267,1301.6 L269,1301.42 L271,1301.27 L273,1301.45 L275,1301.24 L277,1301.12 L279,1301.05 L281,1301.19 L283,1300.96 L285,1300.89 L287,1301.07 L289,1300.8 L291,1300.86 L293,1300.86 L295,1300.8 L297,1300.88 L299,1301.1 L301,1300.94 L303,1300.92 L305,1300.92 L307,1301.19 L309,1301.24 L311,1301.38 L313,1301.36 L315,1301.43 L317,1301.47 L319,1301.56 L321,1301.71 L323,1301.72 L325,1301.82 L327,1302.05 L329,1301.84 L331,1301.51 L333,1301.81 L335,1301.54 L337,1301.29 L339,1301.41 L341,1301.2 L343,1301.03 L345,1300.92 L347,1300.78 L349,1300.81 L351,1300.83 L353,1300.56 L355,1300.55 L357,1300.63 L359,1300.17 L361,1300.26 L363,1300.12 L365,1299.95 L367,1299.88 L369,1299.93 L371,1299.91 L373,1299.72 L375,1299.72 L377,1299.73 L379,1299.6 L381,1299.6 L383,1299.48 L385,1299.41 L387,1299.49 L389,1299.28 L391,1299.14 L393,1299.14 L395,1298.87 L397,1298.87 L399,1298.96 L401,1298.91 L403,1299.02 L405,1298.85 L407,1298.69 L409,1299.12 L411,1299.03 L413,1298.79 L415,1299.11 L417,1298.96 L419,1298.76 L421,1298.95 L423,1298.95 L425,1299.23 L427,1298.96 L429,1299.05 L431,1299.08 L433,1299.12 L435,1299.12 L437,1299.34 L439,1299.53 L441,1299.56 L443,1299.46 L445,1299.51 L447,1299.75 L449,1299.74 L451,1299.83 L453,1299.79 L455,1300.31 L457,1300.27 L459,1300.13 L461,1300.44 L463,1300.58 L465,1300.22 L467,1300.52 L469,1300.62 L471,1300.82 L473,1300.79 L475,1300.83 L477,1300.89 L479,1301.15 L481,1301.23 L483,1300.94 L485,1300.93 L487,1301.4 L489,1301 L491,1301.08 L493,1301.19 L495,1301.28 L497,1301.39 L499,1301.35 L501,1301.23 L503,1301.43 L505,1301.44 L507,1301.67 L509,1301.48 L511,1301.36 L513,1301.43 L515,1301.77 L517,1301.57 L519,1301.42 L521,1301.63 L523,1301.74 L525,1301.92 L527,1301.69 L529,1301.93 L531,1301.98 L533,1301.84 L535,1301.94 L537,1302.22 L539,1302.25 L541,1302.19 L543,1302.18 L545,1302.32 L547,1302.21 L549,1302.27 L551,1302.22 L553,1302.37 L555,1302.41 L557,1302.79 L559,1302.48 L561,1302.71 L563,1302.76 L565,1302.62 L567,1302.83 L569,1302.48 L571,1302.8 L573,1302.93 L575,1302.59 L577,1302.78 L579,1303.1 L581,1302.98 L583,1302.93 L585,1303.06 L587,1303.09 L589,1303.29 L591,1303.3 L593,1303.26 L595,1303.26 L597,1303.38 L599,1303.59 L601,1303.51 L603,1303.58 L605,1303.52 L607,1303.41 L609,1303.5 L611,1303.69 L613,1303.65 L615,1303.55 L617,1303.49 L619,1303.73 L621,1303.7 L623,1303.72 L625,1303.75 L627,1303.85 L629,1303.87 L631,1303.98 L633,1304 L635,1304.07 L637,1304.03 L639,1303.92 L641,1303.98 L643,1304.06 L645,1303.98 L647,1304.09 L649,1304.18 L651,1303.95 L653,1303.85 L655,1304.21 L657,1304.08 L659,1304.17 L661,1303.94 L663,1304.32 L665,1304.21 L667,1304.12 L669,1304.1 L671,1304.17 L673,1304.14 L675,1304.14 L677,1304.05 L679,1304.35 L681,1304.2 L683,1304.22 L685,1304.24 L687,1303.95 L689,1304.31 L691,1304.22 L693,1304.23 L695,1304.29 L697,1304.18 L699,1304.42 L701,1304.26 L703,1304.27 L705,1304.32 L707,1304.49 L709,1304.6 L711,1304.48 L713,1304.41 L715,1304.76 L717,1304.55 L719,1304.86 L721,1304.75 L723,1304.72 L725,1304.76 L727,1304.94 L729,1305.03 L731,1304.94 L733,1305.12 L735,1305.3 L737,1305.07 L739,1305 L741,1305.05 L743,1305.05 L745,1305.19 L747,1305.24 L749,1305.24 L751,1305.55 L753,1305.27 L755,1305.52 L757,1306.01 L759,1305.99 L761,1306.02 L763,1306.11 L765,1306.36 L767,1306.3 L769,1306.34 L771,1306.28 L773,1306.51 L775,1306.53 L777,1306.62 L779,1306.72 L781,1306.89 L783,1306.95 L785,1307.19 L787,1307.02 L789,1307.25 L791,1307.59 L793,1307.45 L795,1307.64 L797,1307.63 L799,1307.6 L801,1307.44 L803,1307.08 L805,1307.12 L807,1307 L809,1306.76 L811,1306.79 L813,1306.6 L815,1306.45 L817,1306.58 L819,1306.44 L821,1306.27 L823,1306.14 L825,1306.07 L827,1305.92 L829,1305.68 L831,1305.4 L833,1304.99 L835,1304.7 L837,1304.34 L839,1303.93 L841,1303.43 L843,1303.05 L845,1302.79 L847,1302.33 L849,1301.99 L851,1301.38 L853,1301.13 L855,1301.36 L857,1301.27 L859,1301.33 L861,1301.19 L863,1301.06 L865,1300.97 L867,1300.73 L869,1300.94 L871,1300.69 L873,1300.76 L875,1300.66 L877,1300.6 L879,1300.61 L881,1300.37 L883,1300.23 L885,1299.85 L887,1299.38 L889,1299.08 L891,1298.47 L893,1298.55 L895,1298.56 L897,1298.66 L899,1298.77 L901,1298.66 L903,1298.93 L905,1299.18 L907,1299.01 L909,1299.18 L911,1299.18 L913,1299.37 L915,1299.27 L917,1299.65 L919,1299.48 L921,1299.41 L923,1299.87 L925,1299.84 L927,1299.85 L929,1299.92 L931,1299.88 L933,1299.96 L935,1300.14 L937,1300.22 L939,1300.29 L941,1300.27 L943,1300.25 L945,1300.35 L947,1300.57 L949,1300.68 L951,1300.53 L953,1300.58 L955,1300.85 L957,1300.84 L958,1300.87" fill="none" stroke="#3cb371" stroke-width="1.9" stroke-linejoin="round" stroke-linecap="butt"/>
<path d="M117,1359.64 L117.6,1360.18 L118.2,1363.04 L118.8,1361.7 L119.4,1358.71 L120,1359.09 L120.6,1362.28 L121.2,1361.23 L121.8,1360.45 L122.4,1361.14 L123,1365.24 L123.6,1360.05 L124.2,1362.68 L124.8,1362.4 L125.4,1361.96 L126,1363.29 L126.6,1362.42 L127.2,1364.26 L127.8,1361.4 L128.4,1366.7 L129,1362.3 L129.6,1363.4 L130.2,1362.15 L130.8,1364.56 L131.4,1364.99 L132,1362.2 L132.6,1363.72 L133.2,1363.01 L133.8,1362.07 L134.4,1368.17 L135,1362.02 L135.6,1364 L136.2,1361.94 L136.8,1364.61 L137.4,1361.69 L138,1360.79 L138.6,1361.32 L139.2,1361.75 L139.8,1366.24 L140.4,1362.87 L141,1361.27 L141.6,1359.8 L142.2,1360.23 L142.8,1363.48 L143.4,1361.15 L144,1361.94 L144.6,1359.19 L145.2,1358.95 L145.8,1365.25 L146.4,1359.77 L147,1359.65 L147.6,1358.56 L148.2,1358.75 L148.8,1357.99 L149.4,1361.17 L150,1359.48 L150.6,1357.89 L151.2,1360.3 L151.8,1362.96 L152.4,1359.39 L153,1360.52 L153.6,1356.58 L154.2,1359.83 L154.8,1356.94 L155.4,1356.34 L156,1355.82 L156.6,1362.07 L157.2,1357.64 L157.8,1359.14 L158.4,1356.03 L159,1356.32 L159.6,1355.88 L160.2,1359.14 L160.8,1358.82 L161.4,1355.77 L162,1356.06 L162.6,1355.3 L163.2,1361.4 L163.8,1353.74 L164.4,1355.25 L165,1354.28 L165.6,1357.22 L166.2,1356.61 L166.8,1355.53 L167.4,1356.03 L168,1360.5 L168.6,1357.2 L169.2,1353.18 L169.8,1355.5 L170.4,1352.97 L171,1354.4 L171.6,1356.04 L172.2,1356.5 L172.8,1355.73 L173.4,1351.98 L174,1359.06 L174.6,1356.67 L175.2,1352.27 L175.8,1352.69 L176.4,1353.17 L177,1351.58 L177.6,1355.58 L178.2,1354.31 L178.8,1351.82 L179.4,1358.5 L180,1353.92 L180.6,1351.92 L181.2,1350.85 L181.8,1351.15 L182.4,1353.28 L183,1353.6 L183.6,1351.9 L184.2,1358.08 L184.8,1350.7 L185.4,1351.54 L186,1351.86 L186.6,1354.46 L187.2,1350.19 L187.8,1349.92 L188.4,1352.33 L189,1354.36 L189.6,1357.86 L190.2,1349.38 L190.8,1353.25 L191.4,1352.49 L192,1349.47 L192.6,1351.11 L193.2,1348.74 L193.8,1352.76 L194.4,1352.21 L195,1352.59 L195.6,1356.61 L196.2,1351.8 L196.8,1348.37 L197.4,1347.34 L198,1348.42 L198.6,1348.67 L199.2,1347.05 L199.8,1348.58 L200.4,1348.19 L201,1352.76 L201.6,1345.95 L202.2,1347.92 L202.8,1344.78 L203.4,1347.61 L204,1344.81 L204.6,1345.32 L205.2,1345.73 L205.8,1344.36 L206.4,1342.22 L207,1351.05 L207.6,1341.73 L208.2,1342.78 L208.8,1338.79 L209.4,1339.18 L210,1343.15 L210.6,1342.6 L211.2,1341.32 L211.8,1348.46 L212.4,1339.15 L213,1341.72 L213.6,1339.64 L214.2,1342.71 L214.8,1340.16 L215.4,1338.56 L216,1344.01 L216.6,1342.75 L217.2,1343.47 L217.8,1350.05 L218.4,1342.58 L219,1344.17 L219.6,1340.94 L220.2,1345.46 L220.8,1348.2 L221.4,1348.03 L222,1349.51" fill="none" stroke="#4169e1" stroke-width="2.08" stroke-linejoin="round" stroke-linecap="butt"/>
<path d="M222,1343.94 L224.1,1355.69 L225.77,1344.16 L227.47,1356.61 L229.11,1343.79 L231.16,1356.05 L233.03,1344.83 L234.74,1356.55 L236.57,1344.39 L238.66,1356.36 L240.33,1344.14 L242.43,1357.17 L244.49,1344.88 L246.58,1356.83 L248.64,1344.46 L250.33,1357.01 L252.27,1344.01 L253.96,1356.21 L255.95,1344.93 L258.05,1356.21 L259.96,1344.45 L261.71,1356.25 L263.72,1343.16 L265.69,1355.39 L267.66,1342.05 L269.54,1354.32 L271.27,1341.24 L273.37,1353.73 L275.21,1339.72 L277.19,1353.22 L278.81,1338.86 L280.66,1352.1 L282.61,1338.45 L284.43,1351.37 L286.51,1337.38 L288.14,1351.1 L290.14,1337.08 L292.24,1350.68 L294.31,1337.16 L295.92,1350.46 L297.6,1337.85 L299.55,1350.41 L301.51,1337.68 L303.56,1350.73 L305.57,1336.82 L307.4,1349.87 L309.49,1337.27 L311.35,1349.58 L312.99,1336.4 L315.05,1349.85 L317.07,1336.02 L318.94,1350.07 L320.67,1336.81 L322.35,1348.89 L323.96,1335.89 L326.03,1348.78 L328.01,1335.66 L329.96,1349.22 L331.8,1335.49 L333.51,1349.47 L335.19,1336.12 L337.28,1348.47 L338.96,1335.83 L340.54,1348.42 L342.62,1334.69 L344.42,1348.15 L346.45,1334.7 L348.5,1348.73 L350.11,1335.01 L352.12,1348.23 L353.78,1334.27 L355.5,1348.21 L357.51,1333.92 L359.64,1347.81 L361.37,1333.04 L363.19,1348.52 L365,1333.47 L367.06,1347.58 L368.94,1332.95 L370.53,1347.01 L372.24,1333.52 L374.19,1347.44 L375.95,1332.65 L377.55,1346.94 L379.59,1332.94 L381.52,1347.07 L383.22,1332.3 L384.89,1346.65 L386.67,1332.29 L388.4,1345.93 L390.52,1331.31 L392.36,1346 L394.25,1330.41 L396.04,1345.13 L397.71,1331.45 L399.39,1345.71 L401.11,1329.83 L403.21,1344.75 L405.23,1329.71 L407.35,1342.6 L409.35,1331.03 L411.03,1340.91 L413.13,1330.98" fill="none" stroke="#4169e1" stroke-width="2.08" stroke-linejoin="round" stroke-linecap="butt"/>
<path d="M414,1332.74 L414.6,1335.12 L415.2,1336.26 L415.8,1334.91 L416.4,1334.4 L417,1335.91 L417.6,1335.71 L418.2,1334.17 L418.8,1334.96 L419.4,1343.72 L420,1335.65 L420.6,1336.33 L421.2,1334.24 L421.8,1335.05 L422.4,1333.36 L423,1336.17 L423.6,1338.34 L424.2,1343.22 L424.8,1338.02 L425.4,1335.95 L426,1335.22 L426.6,1336.89 L427.2,1332.96 L427.8,1333.84 L428.4,1338.47 L429,1334.08 L429.6,1343.31 L430.2,1338.02 L430.8,1339.52 L431.4,1338.26 L432,1339.37 L432.6,1335.84 L433.2,1338.44 L433.8,1334.87 L434.4,1338.99 L435,1338.48 L435.6,1335.24 L436.2,1344.33 L436.8,1339.18 L437.4,1338.31 L438,1336.05 L438.6,1338.37 L439.2,1338.62 L439.8,1338.69 L440.4,1340.58 L441,1339.74 L441.6,1345.29 L442.2,1336.21 L442.8,1335.38 L443.4,1339.61 L444,1339.72 L444.6,1336.4 L445.2,1340.74 L445.8,1337.17 L446.4,1345.69 L447,1341.19 L447.6,1340.66 L448.2,1336.41 L448.8,1340.75 L449.4,1336.88 L450,1340.35 L450.6,1339.67 L451.2,1336.8 L451.8,1336.32 L452.4,1347.13 L453,1336.98 L453.6,1341.65 L454.2,1340.17 L454.8,1339.49 L455.4,1338.95 L456,1339.66 L456.6,1339.12 L457.2,1337.02 L457.8,1345.93 L458.4,1339.5 L459,1339 L459.6,1340.84 L460.2,1341.33 L460.8,1341.2 L461.4,1339.62 L462,1339.32 L462.6,1337.43 L463.2,1346.57 L463.8,1339.29 L464.4,1339.03 L465,1338.45 L465.6,1340.97 L466.2,1340.34 L466.8,1338.05 L467.4,1339.13 L468,1338.35 L468.6,1338.82 L469.2,1346.78 L469.8,1343.2 L470.4,1341.45 L471,1338.91 L471.6,1341.03 L472.2,1340.44 L472.8,1339.45 L473.4,1340.58 L474,1341.37 L474.6,1346.76 L475.2,1341.08 L475.8,1339.02 L476.4,1342.08 L477,1343.41 L477.6,1338.81 L478.2,1342.14 L478.8,1342.95 L479.4,1341.03 L480,1339.22 L480.6,1342.63 L481.2,1347.49 L481.8,1342.75 L482.4,1338.99 L483,1340.22 L483.6,1343.51 L484.2,1339.84 L484.8,1339.45 L485.4,1339.58 L486,1341.71 L486.6,1347.79 L487.2,1343.71 L487.8,1340.43 L488.4,1343.05 L489,1342.15 L489.6,1342.41 L490.2,1339.5 L490.8,1339.63 L491.4,1340.17 L492,1348.14 L492.6,1340.94 L493.2,1343.74 L493.8,1342.31 L494.4,1341.22 L495,1342.57 L495.6,1343.87 L496.2,1340.61 L496.8,1341.64 L497.4,1340.76 L498,1348.51 L498.6,1341.44 L499.2,1344.64 L499.8,1344.3 L500.4,1339.95 L501,1341.59 L501.6,1343.87 L502.2,1344.02 L502.8,1348.32 L503.4,1343.71 L504,1342.01 L504.6,1340.65 L505.2,1343.9 L505.8,1343.68 L506.4,1342.88 L507,1343.96 L507.6,1344.99 L508.2,1341.33 L508.8,1347.97 L509.4,1341.25 L510,1344.51 L510.6,1344.03 L511.2,1342.68 L511.8,1344.2 L512.4,1344.99 L513,1343.96 L513.6,1341.83 L514.2,1342.76 L514.8,1348.36 L515.4,1342.21 L516,1341.33 L516.6,1341.82 L517.2,1342.22 L517.8,1344.6 L518.4,1340.89 L519,1341.61 L519.6,1342.1 L520.2,1344.8 L520.8,1341.43 L521.4,1350.33 L522,1342.93 L522.6,1343.94 L523.2,1344.24 L523.8,1344.75 L524.4,1342.25 L525,1345.25 L525.6,1344.52 L526.2,1341.65 L526.8,1341.29 L527.4,1349.92 L528,1344.4 L528.6,1345.08 L529.2,1341.36 L529.8,1345.68 L530.4,1343.12 L531,1343.35 L531.6,1345.12 L532.2,1344.13 L532.8,1343.57 L533.4,1341.98 L534,1350.68 L534.6,1341.73 L535.2,1344.08 L535.8,1344.78 L536.4,1343.86 L537,1344.53 L537.6,1342.61 L538.2,1346.39 L538.8,1344.06 L539.4,1349.3 L540,1345.76 L540.6,1345.28 L541.2,1344.47 L541.8,1343.1 L542.4,1345.31 L543,1345.75 L543.6,1342.51 L544.2,1342.35 L544.8,1350.81 L545.4,1345.52 L546,1342.94 L546.6,1346.26 L547.2,1344.2 L547.8,1345.71 L548.4,1343.19 L549,1343.92 L549.6,1343.9 L550.2,1344.14 L550.8,1346.27 L551.4,1350.7 L552,1345.21 L552.6,1345.9 L553.2,1344.6 L553.8,1342.51 L554.4,1344.78 L555,1342.99 L555.6,1342.52 L556.2,1346.38 L556.8,1345.06 L557.4,1350.92 L558,1344.61 L558.6,1343.71 L559.2,1344.72 L559.8,1344.97 L560.4,1345.9 L561,1344.57 L561.6,1343.85 L562.2,1345.63 L562.8,1345.94 L563.4,1350.46 L564,1346.39 L564.6,1344.11 L565.2,1346.79 L565.8,1346.13 L566.4,1343.99 L567,1343.84 L567.6,1347.41 L568.2,1346.91 L568.8,1343.31 L569.4,1343.68 L570,1352.12 L570.6,1345.86 L571.2,1343.32 L571.8,1346.39 L572.4,1345.57 L573,1346.25 L573.6,1346.64 L574.2,1346.16 L574.8,1346.2 L575.4,1347.48 L576,1351.95 L576.6,1347.16 L577.2,1346.63 L577.8,1346.05 L578.4,1344.98 L579,1345.02 L579.6,1347.69 L580.2,1346.44 L580.8,1346.38 L581.4,1351.7 L582,1347.94 L582.6,1344.3 L583.2,1345.92 L583.8,1346.55 L584.4,1344.62 L585,1345.18 L585.6,1344.36 L586.2,1344.13 L586.8,1346.06 L587.4,1345.49 L588,1352.51 L588.6,1347.36 L589.2,1345.56 L589.8,1348.35 L590.4,1346.66 L591,1345.31 L591.6,1347.88 L592.2,1347.01 L592.8,1348.18 L593.4,1345.28 L594,1352.98 L594.6,1344.34 L595.2,1344.07 L595.8,1346.13 L596.4,1346.81 L597,1345.21 L597.6,1344.66 L598.2,1344.96 L598.8,1344.95 L599.4,1351.58 L600,1344.75 L600.6,1346.03 L601.2,1346.85 L601.8,1347.03 L602.4,1345.86 L603,1345.79 L603.6,1345.49 L604.2,1348.14 L604.8,1353.22 L605.4,1346.98 L606,1345.77 L606.6,1347.18 L607.2,1348.55 L607.8,1348.72 L608.4,1347.23 L609,1345.85 L609.6,1348.11 L610.2,1345.61 L610.8,1352.38 L611.4,1347.09 L612,1347.02 L612.6,1346.99 L613.2,1347.27 L613.8,1344.73 L614.4,1348.76 L615,1349.17 L615.6,1344.75 L616.2,1352.52 L616.8,1348.59 L617.4,1345.5 L618,1347.28 L618.6,1347.07 L619.2,1348.38 L619.8,1347.26 L620.4,1346.54 L621,1346.71 L621.6,1353.7 L622.2,1349.18 L622.8,1347.94 L623.4,1346.44 L624,1347.32 L624.6,1345.45 L625.2,1348.91 L625.8,1348.95 L626.4,1346.63 L627,1346.64 L627.6,1353.22 L628.2,1348.73 L628.8,1348.07 L629.4,1349.28 L630,1347.73 L630.6,1348.88 L631.2,1348.83 L631.8,1346.31 L632.4,1345.99 L633,1353.22 L633.6,1345.54 L634.2,1346.09 L634.8,1348.36 L635.4,1347.3 L636,1347.87 L636.6,1348.08 L637.2,1347.79 L637.8,1346.17 L638.4,1349.9 L639,1354.71 L639.6,1347.66 L640.2,1348.24 L640.8,1348.97 L641.4,1348.39 L642,1349.36 L642.6,1349.02 L643.2,1346.65 L643.8,1347.11 L644.4,1354.12 L645,1347.7 L645.6,1347.45 L646.2,1350.27 L646.8,1347.25 L647.4,1348.62 L648,1347.84 L648.6,1346.96 L649.2,1348.91 L649.8,1353.57 L650.4,1347.71 L651,1349.32 L651.6,1346.62 L652.2,1347.68 L652.8,1350.08 L653.4,1347.12 L654,1349.74 L654.6,1348.31 L655.2,1349.79 L655.8,1354.01 L656.4,1348.2 L657,1347.23 L657.6,1350.59 L658.2,1349.45 L658.8,1348.51 L659.4,1350.95 L660,1347.23 L660.6,1348.84 L661.2,1349.7 L661.8,1349.58 L662.4,1355.65 L663,1349.93 L663.6,1347.43 L664.2,1347.95 L664.8,1350.74 L665.4,1347.95 L666,1347.68 L666.6,1346.99 L667.2,1349.21 L667.8,1355.62 L668.4,1347.16 L669,1348.41 L669.6,1348.01 L670.2,1347.33 L670.8,1347.33 L671.4,1349.34 L672,1348.99 L672.6,1348.18 L673.2,1355.62 L673.8,1349.91 L674.4,1347.71 L675,1351.34 L675.6,1350.72 L676.2,1349.07 L676.8,1350.6 L677.4,1348.64 L678,1348.27 L678.6,1351.56 L679.2,1356.16 L679.8,1350.96 L680.4,1348.07 L681,1349.13 L681.6,1351.04 L682.2,1348.67 L682.8,1347.96 L683.4,1350.63 L684,1351.65 L684.6,1355.98 L685.2,1348.6 L685.8,1349.18 L686.4,1350.93 L687,1349.55 L687.6,1351.49 L688.2,1349.31 L688.8,1351.79 L689.4,1349.26 L690,1350.26 L690.6,1350.05 L691.2,1356.56 L691.8,1349.75 L692.4,1351.36 L693,1348.52 L693.6,1351.18 L694.2,1352.26 L694.8,1351.58 L695.4,1351.53 L696,1348.94 L696.6,1349.63 L697.2,1352.63 L697.8,1355.58 L698.4,1351.65 L699,1350.41 L699.6,1352.7 L700.2,1351.83 L700.8,1352.1 L701.4,1350.37 L702,1352.69 L702.6,1352.32 L703.2,1356.94 L703.8,1352.58 L704.4,1350.51 L705,1352.45 L705.6,1351.29 L706.2,1349.29 L706.8,1349.75 L707.4,1352.25 L708,1351.85 L708.6,1349.13 L709.2,1350.79 L709.8,1357.37 L710.4,1350.69 L711,1353.01 L711.6,1351.35 L712.2,1353.08 L712.8,1351.48 L713.4,1349.59 L714,1350.92 L714.6,1352.49 L715.2,1350.99 L715.8,1357.33 L716.4,1353.15 L717,1351.9 L717.6,1350.75 L718.2,1352.36 L718.8,1353.7 L719.4,1352.14 L720,1349.87 L720.6,1349.84 L721.2,1357.02 L721.8,1353.72 L722.4,1351.05 L723,1352.88 L723.6,1350.59 L724.2,1351.87 L724.8,1352.3 L725.4,1353.8 L726,1357.65 L726.6,1350.03 L727.2,1350.44 L727.8,1351.33 L728.4,1350.55 L729,1353.99 L729.6,1352.35 L730.2,1350.92 L730.8,1353.99 L731.4,1357.87 L732,1353.6 L732.6,1353.44 L733.2,1351.94 L733.8,1352.7 L734.4,1351.21 L735,1352.69 L735.6,1351.75 L736.2,1354.28 L736.8,1352.3 L737.4,1357.29 L738,1354.04 L738.6,1351.63 L739.2,1350.75 L739.8,1352.7 L740.4,1351.08 L741,1353.77 L741.6,1354.23 L742.2,1351.91 L742.8,1354.68 L743.4,1358.41 L744,1352.17 L744.6,1351.48 L745.2,1351.97 L745.8,1354.79 L746.4,1352.73 L747,1354 L747.6,1351.55 L748.2,1354.29 L748.8,1357.7 L749.4,1354.25 L750,1355.05 L750.6,1352.75 L751.2,1352.12 L751.8,1355.36 L752.4,1352.45 L753,1351.93 L753.6,1352.71 L754.2,1354.54 L754.8,1358.71 L755.4,1355.2 L756,1354.49 L756.6,1353.7 L757.2,1355.14 L757.8,1355.88 L758.4,1354.35 L759,1356.02 L759.6,1355.5 L760.2,1355.92 L760.8,1359.1 L761.4,1354.88 L762,1354.19 L762.6,1356.48 L763.2,1355.67 L763.8,1356.27 L764.4,1355.37 L765,1355.99 L765.6,1355.47 L766.2,1356.96 L766.8,1360.31 L767.4,1356.6 L768,1356.75 L768.6,1357.08 L769.2,1356.4 L769.8,1356.52 L770.4,1357.27 L771,1357.46 L771.6,1355.75 L772.2,1357.56 L772.8,1361.11 L773.4,1357.83 L774,1356.6 L774.6,1357.36 L775.2,1355.71 L775.8,1357.15 L776.4,1355.72 L777,1356.26 L777.6,1355.84 L778.2,1356.63 L778.8,1361.64 L779.4,1358.48 L780,1356.97 L780.6,1356.01 L781.2,1358.6 L781.8,1357.76 L782.4,1356.97 L783,1357.3 L783.6,1358.24 L784.2,1358.66 L784.8,1361.71 L785.4,1359.48 L786,1359.44 L786.6,1358.81 L787.2,1357.13 L787.8,1359.19 L788.4,1358.8 L789,1357.32 L789.6,1358.99 L790.2,1362.65 L790.8,1358.78 L791.4,1360 L792,1359.87 L792.6,1358.97 L793.2,1358.95 L793.8,1358.92 L794.4,1360.47 L795,1359.97 L795.6,1360.59 L796.2,1359.28 L796.8,1363.3 L797.4,1360.21 L798,1360.26 L798.6,1359.03 L799.2,1358.42 L799.8,1360.55 L800.4,1359.39 L801,1358.53 L801.6,1359.42 L802.2,1362.76 L802.8,1360.3 L803.4,1360.87 L804,1360.5 L804.6,1359.34 L805.2,1360.89 L805.8,1360.3 L806.4,1359.5 L807,1359.1 L807.6,1363.84 L808.2,1359.43 L808.8,1359.63 L809.4,1360.98 L810,1358.87 L810.6,1360.69 L811.2,1360.64 L811.8,1360.13 L812.4,1360.7 L813,1360.02 L813.6,1364.09 L814.2,1361.49 L814.8,1360.92 L815.4,1359.86 L816,1359.47 L816.6,1360.08 L817.2,1361.62 L817.8,1359.28 L818.4,1360.65 L819,1364 L819.6,1361.63 L820.2,1361.36 L820.8,1360.24 L821.4,1360.1 L822,1360.38 L822.6,1361.96 L823.2,1361.91 L823.8,1360.44 L824.4,1362.15 L825,1360.31 L825.6,1364.14 L826.2,1361.18 L826.8,1361.26 L827.4,1360.09 L828,1360.26 L828.6,1359.75 L829.2,1359.69 L829.8,1361.18 L830.4,1364.34 L831,1359.22 L831.6,1359.27 L832.2,1361.49 L832.8,1359.68 L833.4,1360.6 L834,1359.88 L834.6,1361.13 L835.2,1361.39 L835.8,1358.69 L836.4,1358.69 L837,1363.92 L837.6,1359.04 L838.2,1358.84 L838.8,1359 L839.4,1358.28 L840,1358.13 L840.6,1358.97 L841.2,1360.41 L841.8,1357.71 L842.4,1363.45 L843,1359.82 L843.6,1357.94 L844.2,1357.54 L844.8,1359.52 L845.4,1357.71 L846,1356.72 L846.6,1359.38 L847.2,1358.05 L847.8,1359.5 L848.4,1362.27 L849,1359.57 L849.6,1358.43 L850.2,1356.93 L850.8,1359.03 L851.4,1355.86 L852,1356.74 L852.6,1357.84 L853.2,1356.19 L853.8,1361.49 L854.4,1358.29 L855,1356.92 L855.6,1356.03 L856.2,1354.76 L856.8,1353.84 L857.4,1355.36 L858,1354.1 L858.6,1353.54 L859.2,1355.21 L859.8,1352.64 L860.4,1359 L861,1351.96 L861.6,1355.79 L862.2,1352.68 L862.8,1352.81 L863.4,1351.21 L864,1353.87 L864.6,1353.71 L865.2,1352.05 L865.8,1353.6 L866.4,1358.71 L867,1352.23 L867.6,1349.2 L868.2,1353.52 L868.8,1353 L869.4,1350.18 L870,1350.73 L870.6,1349.54 L871.2,1352.22 L871.8,1356.79 L872.4,1352.25 L873,1349.78 L873.6,1350.01 L874.2,1350.9 L874.8,1352.65 L875.4,1348.65 L876,1349.8 L876.6,1351.7 L877.2,1355.31 L877.8,1352.19 L878.4,1347.9 L879,1348.49 L879.6,1350.84 L880.2,1350.22 L880.8,1351.53 L881.4,1349.71 L882,1350.96 L882.6,1355.14 L883.2,1348.41 L883.8,1349.35 L884.4,1348.19 L885,1350.81 L885.6,1350.6 L886.2,1347.99 L886.8,1346.85 L887.4,1349.31 L888,1354.78 L888.6,1349.75 L889.2,1347.93 L889.8,1350.1 L890.4,1350.04 L891,1346.52 L891.6,1346.25 L892.2,1348.69 L892.8,1349.92 L893.4,1352.85 L894,1349.03 L894.6,1346.94 L895.2,1345.97 L895.8,1347.58 L896.4,1345.67 L897,1346.6 L897.6,1347.83 L898.2,1346.6 L898.8,1352.63 L899.4,1346.6 L900,1348.11 L900.6,1343.94 L901.2,1343.71 L901.8,1346.37 L902.4,1346.63 L903,1343.72 L903.6,1344.25 L904.2,1345.66 L904.8,1344.18 L905.4,1351.34 L906,1345.14 L906.6,1343.35 L907.2,1344.23 L907.8,1344.23 L908.4,1342.23 L909,1344.22 L909.6,1341.79 L910.2,1344.75 L910.8,1343.5 L911.4,1348.64 L912,1343.55 L912.6,1343.51 L913.2,1343.57 L913.8,1340.05 L914.4,1340.1 L915,1343.27 L915.6,1341.03 L916.2,1348.29 L916.8,1342.95 L917.4,1342.75 L918,1338.65 L918.6,1342.32 L919.2,1340.7 L919.8,1341.27 L920.4,1338.52 L921,1339.14 L921.6,1347.22 L922.2,1339.87 L922.8,1338.85 L923.4,1341.06 L924,1337.92 L924.6,1341.83 L925.2,1338.54 L925.8,1339.35 L926.4,1339.33 L927,1338.93 L927.6,1346.8 L928.2,1337.5 L928.8,1339.44 L929.4,1337.29 L930,1336.71 L930.6,1341.16 L931.2,1340.18 L931.8,1338.81 L932.4,1336.64 L933,1340.13 L933.6,1345.45 L934.2,1339.67 L934.8,1339.49 L935.4,1339.33 L936,1338.84 L936.6,1339.03 L937.2,1334.88 L937.8,1335.91 L938.4,1335.09 L939,1345.4 L939.6,1334.45 L940.2,1336.04 L940.8,1334.72 L941.4,1337.42 L942,1333.97 L942.6,1339.34 L943.2,1336.92 L943.8,1334.87 L944.4,1334.19 L945,1335.07 L945.6,1344.64 L946.2,1337.57 L946.8,1338.38 L947.4,1335.86 L948,1340.61 L948.6,1337.67 L949.2,1339.41 L949.8,1339.27 L950.4,1337.57 L951,1337.44 L951.6,1337.43 L952.2,1347.03 L952.8,1339.82 L953.4,1339.38 L954,1340.43 L954.6,1340.77 L955.2,1339.7 L955.8,1340.08 L956.4,1342.36 L957,1349.27 L957.6,1340.23" fill="none" stroke="#4169e1" stroke-width="2.08" stroke-linejoin="round" stroke-linecap="butt"/>
<path d="M865.5,1351 L867,1339.5 L868,1341 L869.5,1350" fill="none" stroke="#4169e1" stroke-width="2.08" stroke-linejoin="round" stroke-linecap="butt"/>
<path d="M117,1396.13 L119,1396.08 L121,1395.49 L123,1395.56 L125,1395.5 L127,1395.36 L129,1395.12 L131,1395.02 L133,1394.73 L135,1394.58 L137,1394.37 L139,1394.03 L141,1393.75 L143,1393.46 L145,1392.86 L147,1392.5 L149,1391.96 L151,1391.47 L153,1390.75 L155,1390.35 L157,1389.58 L159,1389.04 L161,1388.59 L163,1388.09 L165,1387.44 L167,1387.03 L169,1386.9 L171,1386.46 L173,1386.35 L175,1385.95 L177,1385.62 L179,1385.27 L181,1384.93 L183,1384.3 L185,1383.78 L187,1382.91 L189,1382.2 L191,1381.42 L193,1380.81 L195,1380.01 L197,1379.19 L199,1378.79 L201,1377.98 L203,1377.6 L205,1377.35 L207,1377.24 L209,1376.8 L211,1376.66 L213,1376.46 L215,1376.28 L217,1376.6 L219,1376.79 L221,1376.79 L223,1376.87 L225,1376.68 L227,1376.6 L229,1376.61 L231,1376.61 L233,1376.4 L235,1376.37 L237,1376.28 L239,1375.98 L241,1375.74 L243,1375.51 L245,1374.91 L247,1374.77 L249,1374.18 L251,1374.08 L253,1373.72 L255,1373.31 L257,1372.93 L259,1372.69 L261,1372.31 L263,1372 L265,1371.52 L267,1371.28 L269,1370.74 L271,1370.42 L273,1370.03 L275,1369.8 L277,1369.18 L279,1369.01 L281,1369 L283,1368.73 L285,1368.61 L287,1368.72 L289,1368.66 L291,1368.82 L293,1368.75 L295,1369 L297,1369.2 L299,1369.39 L301,1369.33 L303,1369.73 L305,1369.65 L307,1369.74 L309,1369.94 L311,1370.15 L313,1370.15 L315,1370.24 L317,1370.25 L319,1370.23 L321,1370.17 L323,1370.38 L325,1369.96 L327,1369.97 L329,1370 L331,1369.81 L333,1369.55 L335,1369.6 L337,1369.47 L339,1369.17 L341,1369.37 L343,1369.28 L345,1369.14 L347,1368.84 L349,1368.77 L351,1368.51 L353,1368.51 L355,1368.3 L357,1368.27 L359,1368.06 L361,1368.06 L363,1367.89 L365,1367.79 L367,1367.36 L369,1367.19 L371,1367.27 L373,1367.02 L375,1366.98 L377,1366.82 L379,1366.66 L381,1366.59 L383,1366.41 L385,1366.26 L387,1365.97 L389,1366.09 L391,1365.77 L393,1365.7 L395,1365.43 L397,1365.33 L399,1365.02 L401,1364.82 L403,1364.61 L405,1364.34 L407,1364.2 L409,1364.14 L411,1364.1 L413,1364 L415,1364.34 L417,1364 L419,1364.07 L421,1364.34 L423,1364.03 L425,1364.18 L427,1364.17 L429,1364.08 L431,1363.96 L433,1363.94 L435,1364.1 L437,1364.15 L439,1363.93 L441,1364.23 L443,1364.27 L445,1364.56 L447,1364.64 L449,1364.69 L451,1364.88 L453,1365.08 L455,1365.36 L457,1365.68 L459,1365.56 L461,1365.69 L463,1365.9 L465,1365.98 L467,1366.2 L469,1366.32 L471,1366.41 L473,1366.44 L475,1366.62 L477,1366.77 L479,1366.75 L481,1366.96 L483,1366.97 L485,1366.93 L487,1367.18 L489,1366.96 L491,1367.26 L493,1367.4 L495,1367.25 L497,1367.33 L499,1367.5 L501,1367.62 L503,1367.59 L505,1367.65 L507,1367.8 L509,1367.83 L511,1367.77 L513,1367.97 L515,1368.08 L517,1368.02 L519,1368.31 L521,1368.29 L523,1368.53 L525,1368.4 L527,1368.55 L529,1368.59 L531,1368.96 L533,1369.05 L535,1369.14 L537,1369.16 L539,1369.05 L541,1368.95 L543,1368.57 L545,1368.64 L547,1368.44 L549,1368.33 L551,1368.15 L553,1368.39 L555,1368.36 L557,1368.36 L559,1368.76 L561,1368.9 L563,1369.01 L565,1369.28 L567,1369.43 L569,1369.48 L571,1369.75 L573,1370.15 L575,1370.34 L577,1370.53 L579,1370.58 L581,1370.84 L583,1371.11 L585,1371.37 L587,1371.42 L589,1371.59 L591,1372.01 L593,1372.11 L595,1372.26 L597,1372.43 L599,1372.63 L601,1373.03 L603,1373.1 L605,1373.07 L607,1373.07 L609,1373.45 L611,1373.52 L613,1373.56 L615,1373.6 L617,1373.41 L619,1373.55 L621,1373.82 L623,1373.81 L625,1373.95 L627,1373.95 L629,1374.01 L631,1374.22 L633,1374.2 L635,1374.32 L637,1374.43 L639,1374.5 L641,1374.68 L643,1374.8 L645,1374.63 L647,1374.85 L649,1374.93 L651,1375.18 L653,1375.11 L655,1375.41 L657,1375.51 L659,1375.61 L661,1375.57 L663,1375.76 L665,1375.78 L667,1376.04 L669,1376.21 L671,1376.08 L673,1376.26 L675,1376.44 L677,1376.51 L679,1376.83 L681,1376.77 L683,1376.93 L685,1376.9 L687,1377.28 L689,1377.25 L691,1377.43 L693,1377.47 L695,1377.36 L697,1377.54 L699,1377.7 L701,1378.04 L703,1378.12 L705,1378.39 L707,1378.56 L709,1378.74 L711,1378.99 L713,1379.1 L715,1379.1 L717,1379.38 L719,1379.8 L721,1379.71 L723,1380.14 L725,1380.35 L727,1380.31 L729,1380.58 L731,1380.59 L733,1380.99 L735,1381.02 L737,1381.15 L739,1381.43 L741,1381.6 L743,1381.77 L745,1382.07 L747,1382.31 L749,1382.63 L751,1383.22 L753,1383.83 L755,1384.06 L757,1384.44 L759,1384.88 L761,1385.5 L763,1385.87 L765,1386.36 L767,1386.63 L769,1387.17 L771,1387.63 L773,1388.31 L775,1388.65 L777,1388.87 L779,1389.57 L781,1389.98 L783,1390.3 L785,1390.17 L787,1390.74 L789,1391.09 L791,1391.35 L793,1391.54 L795,1391.59 L797,1391.86 L799,1391.91 L801,1391.99 L803,1391.98 L805,1391.86 L807,1391.95 L809,1391.73 L811,1391.74 L813,1391.78 L815,1391.82 L817,1391.68 L819,1391.71 L821,1391.39 L823,1390.89 L825,1390.55 L827,1389.99 L829,1389.52 L831,1389.01 L833,1388.81 L835,1388.18 L837,1387.22 L839,1386.64 L841,1385.69 L843,1384.59 L845,1383.72 L847,1382.93 L849,1381.82 L851,1381.05 L853,1380.56 L855,1380.01 L857,1379.79 L859,1379.62 L861,1379.6 L863,1379.55 L865,1379.22 L867,1378.98 L869,1378.87 L871,1378.43 L873,1378.06 L875,1377.49 L877,1376.99 L879,1376.5 L881,1376.01 L883,1375.21 L885,1374.1 L887,1372.8 L889,1371.32 L891,1369.85 L893,1368.88 L895,1368.68 L897,1368.54 L899,1368.01 L901,1367.87 L903,1367.62 L905,1367.32 L907,1367.05 L909,1366.9 L911,1366.35 L913,1365.92 L915,1365.63 L917,1364.89 L919,1364.3 L921,1364.08 L923,1363.71 L925,1362.98 L927,1362.34 L929,1361.44 L931,1360.68 L933,1360.11 L935,1359.28 L937,1358.4 L939,1357.48 L941,1356.69 L943,1356.08 L945,1355.53 L947,1355.24 L949,1354.65 L951,1354.23 L953,1353.9 L955,1353.47 L957,1353.06 L958,1352.87" fill="none" stroke="#2e8b57" stroke-width="2.8" stroke-linejoin="round" stroke-linecap="butt"/>
<path d="M117,1416.15 L118.54,1416.15 L120.85,1405.77 L125.08,1415 L127,1405.77 L130.85,1415 L132.38,1406.15 L133.54,1411.54 L135.85,1402.31 L137.38,1406.92 L138.54,1400.38 L141.62,1410 L143.54,1400.77 L144.69,1406.54 L146.62,1398.85 L150.46,1408.46 L152.38,1399.62 L156.23,1410 L158.15,1399.62 L161.62,1408.46 L163.54,1399.23 L165.08,1403.08 L170.85,1411.15 L172.77,1401.54 L174.69,1404.62 L178.92,1410.77 L180.85,1400.77 L183.54,1397.69 L186.23,1403.85 L189.31,1407.69 L193.15,1410 L194.69,1400 L197.77,1396.15 L199.69,1403.08 L200.85,1394.23 L204.69,1403.85 L206.23,1392.31 L209.31,1388.85 L213.15,1400.38 L215.08,1389.23 L217,1398.46" fill="none" stroke="#87ceeb" stroke-width="2.3" stroke-linejoin="round" stroke-linecap="butt"/>
<path d="M217,1387.74 L218.99,1399.3 L220.66,1388.39 L222.7,1399.08 L224.24,1387.4 L226.3,1398.72 L228.27,1388.31 L230.03,1399.3 L231.78,1387.83 L233.38,1399.3 L235.18,1388.13 L237.13,1399.48 L238.95,1387.59 L241.01,1398.44 L242.87,1387.34 L244.46,1398.65 L246.29,1387.6 L248.11,1399 L249.67,1387.59 L251.38,1398.48 L253.42,1387.67 L255.2,1399.21 L256.99,1388.26 L258.84,1399.22 L260.78,1387.79 L262.81,1399.28 L264.81,1387.16 L266.48,1398.07 L268.37,1386.36 L270.2,1397.2 L271.73,1385.07 L273.48,1397.16 L275.04,1383.48 L277.06,1396 L278.69,1382.75 L280.3,1395.37 L282.19,1383.13 L283.97,1395.21 L285.52,1383.15 L287.5,1395.72 L289.07,1382.84 L290.79,1395.07 L292.86,1382.46 L294.66,1395.06 L296.69,1382.91 L298.64,1395.17 L300.57,1382.74 L302.47,1395.16 L304.16,1382.3 L305.95,1394.66 L307.73,1382.7 L309.66,1394.35 L311.29,1382.14 L313.04,1394.45 L315.1,1382.23 L316.91,1393.95 L318.83,1381.8 L320.74,1394.38 L322.44,1382.48 L324.16,1393.91 L326.17,1382.23 L327.8,1393.91 L329.47,1382.02 L331.18,1394.59 L332.95,1382.09 L334.79,1394.16 L336.85,1382.75 L338.78,1394.21 L340.35,1382.6 L342.28,1395.19 L344.23,1382.49 L346.03,1394.42 L347.79,1382.54 L349.33,1394.82 L351.36,1382.2 L353.04,1394.8 L355.06,1382.78 L356.61,1394.99 L358.54,1381.69 L360.13,1395.72 L362.01,1382.11 L363.54,1395.47 L365.3,1381.47 L367.37,1395.04 L368.96,1382.12 L370.83,1395.01 L372.59,1381.93 L374.45,1394.64 L376.08,1381.5 L377.95,1393.85 L379.67,1380.94 L381.64,1393.12 L383.17,1381.64 L384.93,1392.83 L386.64,1381.01 L388.57,1393.26 L390.54,1381.28 L392.36,1392.81 L394.22,1380.85 L396.19,1392.68 L398.2,1381.05 L399.8,1391.62 L401.76,1380.86 L403.69,1391.59 L405.76,1380.77 L407.74,1390.35 L409.61,1379.41 L411.27,1389.91 L414.08,1379.23 L416.68,1391.94 L419.22,1381.9 L422.15,1395.09 L425.05,1384.36 L427.97,1396.13 L430.62,1385 L433.96,1396.81 L437.04,1385.39 L439.96,1397.03 L442.6,1385.9 L445.27,1397.93 L448.38,1386.01 L451.14,1398.27 L454.24,1387.23 L457.45,1398.37 L460.52,1388.62 L463.44,1399.39 L466.3,1388.79 L468.84,1399.59 L472.12,1389.94 L474.94,1400.11 L477.85,1389.94 L481.09,1400.55 L483.67,1390.05 L486.4,1401.05 L489.56,1390.03 L492.17,1400.76 L494.97,1390.36 L497.82,1401.11 L501.01,1391.29 L503.57,1400.94 L506.48,1391.38 L509.26,1401.53 L512.18,1391.38 L514.77,1402.03 L517.99,1391.4 L520.7,1402.4 L523.27,1391.26 L526.28,1401.81 L529.26,1391.79 L531.74,1402.19 L534.88,1391.9 L537.45,1402.11 L540.52,1392.7 L543.59,1402.61 L546.39,1392.5 L549.27,1402.33 L552.54,1392.7 L555.58,1402.51 L558.81,1392.63 L561.5,1403.48 L564.73,1393.06 L567.44,1403.57 L569.9,1392.75 L573.21,1402.98 L576.49,1393.63 L579.66,1403.94 L582.28,1393.76 L585.58,1404.03 L588.66,1394.08 L591.76,1403.46 L594.45,1394.26 L596.97,1404.03 L599.46,1393.7 L602.35,1404.48 L605.28,1394.74 L608.14,1403.89 L610.86,1394.42 L613.48,1404.93 L616.5,1395.2 L619.34,1405.07 L622.03,1395.29 L624.73,1404.82 L627.54,1395.35 L630.41,1404.98 L633.48,1394.82 L636.5,1404.76 L639.1,1395.68 L642.38,1404.93 L645.41,1396.01 L648.09,1405.95 L651.21,1396.24 L653.87,1405.99 L656.5,1397.28 L659.15,1406.73 L661.89,1397.44 L665.2,1407.46 L667.74,1397.72 L670.55,1407.33 L673.22,1399.08 L675.93,1408.04 L678.49,1398.78 L681.33,1408.53 L684.07,1399.18 L687.28,1408.53 L689.74,1399.4 L692.5,1408.22 L695.37,1399.34 L698.41,1408.17 L701.67,1399.56 L704.92,1408.45 L708.18,1399.24 L710.68,1408.86 L713.73,1399.47 L716.2,1408.62 L719.22,1399.22 L722.03,1408.11 L725.14,1399.66 L727.89,1408.64 L730.39,1399.96 L733.7,1408.81 L736.86,1399.56 L739.66,1408.19 L742.16,1399.28 L744.84,1408.68 L747.36,1399.79 L750.2,1408.5 L752.84,1399.64 L755.37,1408.96 L758.32,1400.18 L760.95,1409.26 L764.04,1400.47 L767.01,1409.46 L769.85,1400.8 L772.76,1409.52 L775.97,1401.36 L778.52,1410.08 L781.73,1401.88 L784.22,1410.1 L786.92,1402.15 L789.63,1410.45 L792.28,1402.14 L795.1,1410.69 L797.67,1402.27 L800.67,1411.09 L803.41,1402.4 L806.51,1411.6 L809.46,1403.07 L812.53,1411.35 L815.21,1402.94 L817.95,1410.51 L820.82,1402.6 L823.65,1410.24 L826.9,1402.82 L829.53,1409.16 L832.3,1402.55 L835.26,1408.7 L837.81,1401.88 L840.93,1408.38 L843.7,1401.71 L846.73,1407.65 L850.01,1401.52 L852.67,1405.75 L855.36,1396.47 L858.36,1404.58 L861.37,1396.06 L864.27,1404.85 L866.79,1395.59 L869.31,1404.74 L872.24,1395 L874.83,1403.92 L878.02,1395.2 L880.77,1404.2 L883.98,1394.67 L886.5,1403.82 L889.15,1394.1 L891.67,1403.33 L894.84,1393.06 L897.33,1402.36 L900.57,1391.58 L903.19,1402.08 L906.35,1389.93 L909.37,1400.66 L912.58,1388.56 L915.76,1400.13 L918.98,1386.8 L921.73,1398.87 L924.74,1386.99 L927.5,1399.06 L930.31,1387.18 L933.38,1399.67 L936,1387.19 L939.12,1399.63 L941.61,1387.41 L944.7,1399.31 L947.41,1387.84 L950.43,1399.55 L953.19,1389.05 L956.43,1400.42" fill="none" stroke="#87ceeb" stroke-width="2.2" stroke-linejoin="round" stroke-linecap="butt"/>
<line x1="117" y1="1367.2" x2="958" y2="1367.2" stroke="#ffd700" stroke-width="2.08" stroke-dasharray="7.71 3.33"/>
</g>
<rect x="117.5" y="31.5" width="840" height="137" fill="none" stroke="#000" stroke-width="1.11"/>
<rect x="117.5" y="211.5" width="840" height="138" fill="none" stroke="#000" stroke-width="1.11"/>
<rect x="117.5" y="391.5" width="840" height="138" fill="none" stroke="#000" stroke-width="1.11"/>
<rect x="117.5" y="572.5" width="840" height="137" fill="none" stroke="#000" stroke-width="1.11"/>
<rect x="117.5" y="752.5" width="840" height="138" fill="none" stroke="#000" stroke-width="1.11"/>
<rect x="117.5" y="932.5" width="840" height="138" fill="none" stroke="#000" stroke-width="1.11"/>
<rect x="117.5" y="1113.5" width="840" height="138" fill="none" stroke="#000" stroke-width="1.11"/>
<rect x="117.5" y="1293.5" width="840" height="138" fill="none" stroke="#000" stroke-width="1.11"/>
<rect x="1048.44" y="38.02" width="212.08" height="66" rx="2.8" ry="2.8" fill="#fff" fill-opacity="0.8" stroke="#cccccc" stroke-width="1.11"/>
<line x1="1053.5" y1="49.22" x2="1081.28" y2="49.22" stroke="#ff0000" stroke-width="2.08" stroke-linecap="square"/>
<line x1="1053.5" y1="70.16" x2="1081.28" y2="70.16" stroke="#bf00bf" stroke-width="2.08" stroke-linecap="square"/>
<line x1="1053.5" y1="91.11" x2="1081.28" y2="91.11" stroke="#bfbf00" stroke-width="2.08" stroke-linecap="square"/>
<rect x="1048.44" y="398.76" width="184.46" height="24.11" rx="2.8" ry="2.8" fill="#fff" fill-opacity="0.8" stroke="#cccccc" stroke-width="1.11"/>
<line x1="1053.5" y1="409.95" x2="1081.28" y2="409.95" stroke="#ff0000" stroke-width="2.08" stroke-linecap="square"/>
<rect x="1048.44" y="939.86" width="105.46" height="45.06" rx="2.8" ry="2.8" fill="#fff" fill-opacity="0.8" stroke="#cccccc" stroke-width="1.11"/>
<line x1="1053.5" y1="951.06" x2="1081.28" y2="951.06" stroke="#ff0000" stroke-width="2.08" stroke-linecap="square"/>
<line x1="1053.5" y1="972" x2="1081.28" y2="972" stroke="#bf00bf" stroke-width="2.08" stroke-linecap="square"/>
<rect x="1048.44" y="1159.14" width="181.58" height="45.06" rx="2.8" ry="2.8" fill="#fff" fill-opacity="0.8" stroke="#cccccc" stroke-width="1.11"/>
<line x1="1053.5" y1="1170.34" x2="1081.28" y2="1170.34" stroke="#4169e1" stroke-width="2.08" stroke-linecap="square"/>
<line x1="1053.5" y1="1191.28" x2="1081.28" y2="1191.28" stroke="#87ceeb" stroke-width="2.08" stroke-linecap="square"/>
<rect x="1048.44" y="1286.82" width="204.33" height="45.06" rx="2.8" ry="2.8" fill="#fff" fill-opacity="0.8" stroke="#cccccc" stroke-width="1.11"/>
<line x1="1053.5" y1="1298.02" x2="1081.28" y2="1298.02" stroke="#4169e1" stroke-width="2.08" stroke-linecap="square"/>
<line x1="1053.5" y1="1318.96" x2="1081.28" y2="1318.96" stroke="#2e8b57" stroke-width="2.08" stroke-linecap="square"/>
<rect x="1048.44" y="1378.42" width="182.83" height="45.06" rx="2.8" ry="2.8" fill="#fff" fill-opacity="0.8" stroke="#cccccc" stroke-width="1.11"/>
<line x1="1053.5" y1="1389.62" x2="1081.28" y2="1389.62" stroke="#87ceeb" stroke-width="2.08" stroke-linecap="square"/>
<line x1="1053.5" y1="1410.56" x2="1081.28" y2="1410.56" stroke="#3cb371" stroke-width="2.08" stroke-linecap="square"/>
<text transform="translate(47.39,175.58) scale(1.1106,1)" x="0.87" font-size="22.08" fill="#000000">−0.05</text>
<text transform="translate(65.32,106.58) scale(1.0583,1)" x="0.4" font-size="22.08" fill="#000000">0.00</text>
<text transform="translate(65.53,37.58) scale(1.0496,1)" x="0.41" font-size="22.08" fill="#000000">0.05</text>
<text transform="translate(36.76,164.02) rotate(-90) scale(1.0686,1)" x="0.23" font-size="22.08" fill="#000000">angle (deg.)</text>
<text transform="translate(1088.37,53.84) scale(1.0563,1)" x="-0.36" font-size="14.72" fill="#000000">Telescope Azimuth</text>
<text transform="translate(1088.14,74.84) scale(1.0688,1)" x="-0.36" font-size="14.72" fill="#000000">Telescope Altitude</text>
<text transform="translate(1088.24,95.84) scale(1.0502,1)" x="-0.36" font-size="14.72" fill="#000000">Telescope Rotator Angle</text>
<text transform="translate(98.86,338.6) scale(1.0252,1)" x="0.2" font-size="22.08" fill="#ff0000">Z</text>
<text transform="translate(56.47,304.57) scale(1.0232,1)" x="0.07" font-size="22.08" fill="#ff0000">Open</text>
<text transform="translate(63.3,270.76) scale(1.0561,1)" x="0.1" font-size="22.08" fill="#ff0000">Dark</text>
<text transform="translate(82.29,235.6) scale(0.9509,1)" x="0.31" font-size="22.08" fill="#ff0000">NB</text>
<text transform="translate(47.76,314.76) rotate(-90) scale(1.0472,1)" x="0.12" font-size="22.08" fill="#ff0000">Filter0</text>
<text transform="translate(63.78,400.58) scale(1.0380,1)" x="0.55" font-size="22.08" fill="#000000">10</text>
<text transform="translate(90.06,392.3) scale(1.1618,1)" x="0.55" font-size="15.46" fill="#000000">−3</text>
<text transform="translate(75.78,442.58) scale(1.0380,1)" x="0.55" font-size="22.08" fill="#000000">10</text>
<text transform="translate(101.72,434.32) scale(0.9488,1)" x="0.53" font-size="15.46" fill="#000000">1</text>
<text transform="translate(75.78,484.58) scale(1.0380,1)" x="0.55" font-size="22.08" fill="#000000">10</text>
<text transform="translate(101.92,476.21) scale(0.9384,1)" x="0.59" font-size="15.46" fill="#000000">5</text>
<text transform="translate(75.78,527.58) scale(1.0380,1)" x="0.55" font-size="22.08" fill="#000000">10</text>
<text transform="translate(101.92,519.3) scale(1.0250,1)" x="0.15" font-size="15.46" fill="#000000">9</text>
<text transform="translate(51.76,544.91) rotate(-90) scale(1.0632,1)" x="0.33" font-size="22.08" fill="#000000">pressure (mbar)</text>
<text transform="translate(1087.93,414.97) scale(1.0551,1)" x="0.07" font-size="14.72" fill="#000000">Pressure Instrument</text>
<text transform="translate(78.44,716.58) scale(1.0494,1)" x="0.41" font-size="22.08" fill="#ff0000">0.0</text>
<text transform="translate(78.65,648.58) scale(1.0370,1)" x="0.42" font-size="22.08" fill="#ff0000">0.5</text>
<text transform="translate(78.47,579.58) scale(1.0449,1)" x="0.54" font-size="22.08" fill="#ff0000">1.0</text>
<text transform="translate(67.76,695.98) rotate(-90) scale(1.0522,1)" x="0.35" font-size="22.08" fill="#ff0000">power (W)</text>
<text transform="translate(78.44,897.58) scale(1.0494,1)" x="0.41" font-size="22.08" fill="#000000">0.0</text>
<text transform="translate(78.65,828.58) scale(1.0370,1)" x="0.42" font-size="22.08" fill="#000000">0.5</text>
<text transform="translate(78.47,759.58) scale(1.0449,1)" x="0.54" font-size="22.08" fill="#000000">1.0</text>
<text transform="translate(67.76,867.63) rotate(-90) scale(1.0301,1)" x="-0.55" font-size="22.08" fill="#000000">Temp (K)</text>
<text transform="translate(72.55,1039.58) scale(1.0568,1)" x="0.33" font-size="22.08" fill="#000000">290</text>
<text transform="translate(72.31,983.58) scale(1.0486,1)" x="0.34" font-size="22.08" fill="#000000">291</text>
<text transform="translate(60.76,1047.63) rotate(-90) scale(1.0301,1)" x="-0.55" font-size="22.08" fill="#000000">Temp (K)</text>
<text transform="translate(1087.77,955.67) scale(1.0051,1)" x="0.07" font-size="14.72" fill="#000000">Acadia</text>
<text transform="translate(1088.55,976.97) scale(1.0920,1)" x="0.03" font-size="14.72" fill="#000000">Detector</text>
<text transform="translate(85.78,1219.58) scale(1.0380,1)" x="0.55" font-size="22.08" fill="#000000">10</text>
<text transform="translate(85.48,1163.45) scale(1.0216,1)" x="0.59" font-size="22.08" fill="#000000">15</text>
<text transform="translate(73.06,1151.52) rotate(-90) scale(0.9459,1)" x="0.11" font-size="22.08" fill="#000000">C)</text>
<circle cx="59.5" cy="1156.5" r="1.95" fill="none" stroke="#000000" stroke-width="1.15"/>
<text transform="translate(72.76,1233.27) rotate(-90) scale(1.0268,1)" x="-0.55" font-size="22.08" fill="#000000">Temp (</text>
<text transform="translate(1087.64,1174.84) scale(1.0375,1)" x="0" font-size="14.72" fill="#000000">Chiller Room Temp</text>
<text transform="translate(1088.2,1195.84) scale(1.0415,1)" x="-0.36" font-size="14.72" fill="#000000">Top Ring Temp(env)</text>
<text transform="translate(79.57,1431.58) scale(1.0396,1)" x="0.35" font-size="22.08" fill="#000000">2.5</text>
<text transform="translate(79.31,1374.58) scale(1.0404,1)" x="0.67" font-size="22.08" fill="#000000">5.0</text>
<text transform="translate(79.46,1318.45) scale(1.0323,1)" x="0.56" font-size="22.08" fill="#000000">7.5</text>
<text transform="translate(55.3,1473.17) rotate(-10) scale(1.0784,1)" x="0.37" font-size="22.08" fill="#000000">06/08 12:00</text>
<text transform="translate(160.3,1473.17) rotate(-10) scale(1.0784,1)" x="0.37" font-size="22.08" fill="#000000">06/08 15:00</text>
<text transform="translate(265.3,1473.17) rotate(-10) scale(1.0784,1)" x="0.37" font-size="22.08" fill="#000000">06/08 18:00</text>
<text transform="translate(370.3,1473.17) rotate(-10) scale(1.0784,1)" x="0.37" font-size="22.08" fill="#000000">06/08 21:00</text>
<text transform="translate(475.8,1473.17) rotate(-10) scale(1.0784,1)" x="0.37" font-size="22.08" fill="#000000">06/09 00:00</text>
<text transform="translate(580.8,1473.17) rotate(-10) scale(1.0784,1)" x="0.37" font-size="22.08" fill="#000000">06/09 03:00</text>
<text transform="translate(685.8,1473.17) rotate(-10) scale(1.0784,1)" x="0.37" font-size="22.08" fill="#000000">06/09 06:00</text>
<text transform="translate(790.8,1473.17) rotate(-10) scale(1.0784,1)" x="0.37" font-size="22.08" fill="#000000">06/09 09:00</text>
<text transform="translate(895.8,1473.17) rotate(-10) scale(1.0784,1)" x="0.37" font-size="22.08" fill="#000000">06/09 12:00</text>
<text transform="translate(67.06,1308.52) rotate(-90) scale(0.9459,1)" x="0.11" font-size="22.08" fill="#000000">C)</text>
<circle cx="53.5" cy="1313.5" r="1.95" fill="none" stroke="#000000" stroke-width="1.15"/>
<text transform="translate(67.06,1437.69) rotate(-90) scale(1.0279,1)" x="0.15" font-size="22.08" fill="#000000">Dew Point (</text>
<text transform="translate(1087.97,1302.67) scale(1.0362,1)" x="0" font-size="14.72" fill="#000000">Chiller Room Due Point</text>
<text transform="translate(1088.02,1323.84) scale(1.0288,1)" x="-0.36" font-size="14.72" fill="#000000">Top Ring Due Point</text>
<text transform="translate(963.15,338.6) scale(0.9320,1)" x="-0.55" font-size="22.08" fill="#bf00bf">Y</text>
<path role="img" aria-label="J" d="M964.9,288.6 L964.9,304 Q964.9,308.3 961,308.3" fill="none" stroke="#bf00bf" stroke-width="2.1"/>
<text transform="translate(961.47,270.57) scale(1.0232,1)" x="0.07" font-size="22.08" fill="#bf00bf">Open</text>
<text transform="translate(962.16,235.6) scale(0.9434,1)" x="0.33" font-size="22.08" fill="#bf00bf">H</text>
<text transform="translate(1039.76,314.5) rotate(-90) scale(1.0423,1)" x="0.13" font-size="22.08" fill="#bf00bf">Filter1</text>
<text transform="translate(961.44,716.58) scale(1.0494,1)" x="0.41" font-size="22.08" fill="#bf00bf">0.0</text>
<text transform="translate(961.65,648.58) scale(1.0370,1)" x="0.42" font-size="22.08" fill="#bf00bf">0.5</text>
<text transform="translate(961.47,579.58) scale(1.0449,1)" x="0.54" font-size="22.08" fill="#bf00bf">1.0</text>
<text transform="translate(1018.06,610.52) rotate(-90) scale(0.9459,1)" x="0.11" font-size="22.08" fill="#bf00bf">C)</text>
<circle cx="1004.5" cy="615.5" r="1.95" fill="none" stroke="#bf00bf" stroke-width="1.15"/>
<text transform="translate(1017.76,692.27) rotate(-90) scale(1.0268,1)" x="-0.55" font-size="22.08" fill="#bf00bf">Temp (</text>
<text transform="translate(962.43,1430.58) scale(1.0422,1)" x="0.45" font-size="22.08" fill="#000000">40</text>
<text transform="translate(961.69,1365.58) scale(1.0495,1)" x="0.29" font-size="22.08" fill="#000000">60</text>
<text transform="translate(1008.76,1431.7) rotate(-90) scale(1.0820,1)" x="0.06" font-size="22.08" fill="#000000">Humidity (%)</text>
<text transform="translate(1087.66,1393.67) scale(1.0470,1)" x="-0.01" font-size="14.72" fill="#000000">Chiller Room Humid</text>
<text transform="translate(1088.22,1414.84) scale(1.0404,1)" x="-0.36" font-size="14.72" fill="#000000">Top Ring Humid</text>
</svg>
</body></html>
